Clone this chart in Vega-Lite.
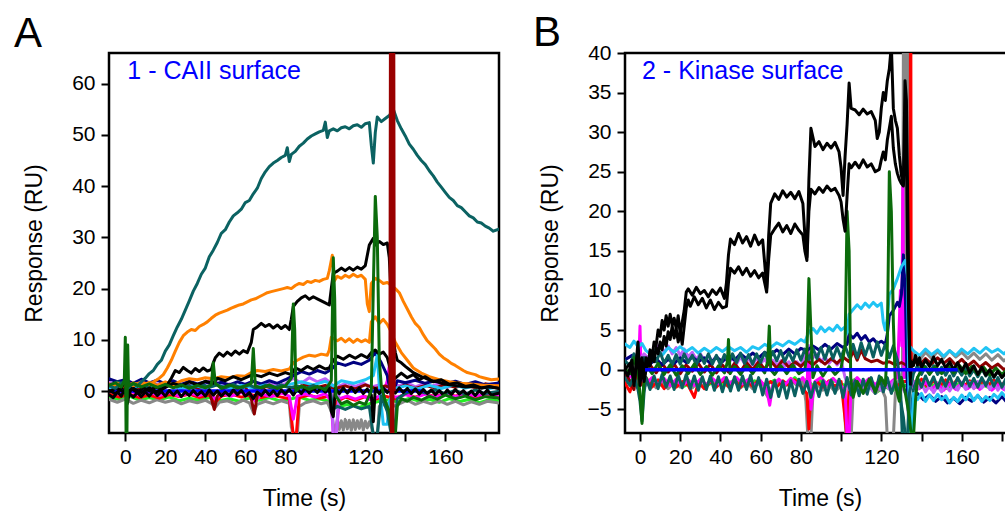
{
"$schema": "https://vega.github.io/schema/vega-lite/v6.json",
"background": "white",
"padding": {"left": 12, "top": 10, "right": 0, "bottom": 0},
"spacing": 126,
"bounds": "flush",
"config": {
 "font": "Liberation Sans",
 "view": {"stroke": "black", "strokeWidth": 2.5},
 "axis": {"domain": false, "grid": false, "tickSize": 8, "tickWidth": 2, "tickColor": "black", "labelFont": "Liberation Sans", "labelFontSize": 21, "labelColor": "black", "titleFont": "Liberation Sans", "titleFontSize": 23, "titleFontWeight": "normal", "titleColor": "black"}
},
"resolve": {"scale": {"color": "independent"}},
"datasets": {
"A": [
{"id":"A01","t":-9,"v":-1.2},{"id":"A01","t":-3,"v":-1.6},{"id":"A01","t":2,"v":-1.0},{"id":"A01","t":7,"v":-1.8},{"id":"A01","t":12,"v":-1.3},{"id":"A01","t":17,"v":-1.7},{"id":"A01","t":22,"v":-1.2},{"id":"A01","t":27,"v":-1.9},{"id":"A01","t":32,"v":-1.4},{"id":"A01","t":37,"v":-1.8},{"id":"A01","t":42,"v":-1.3},{"id":"A01","t":47,"v":-1.9},{"id":"A01","t":52,"v":-1.5},{"id":"A01","t":57,"v":-2.0},{"id":"A01","t":62,"v":-1.4},{"id":"A01","t":67,"v":-1.8},{"id":"A01","t":72,"v":-1.3},{"id":"A01","t":77,"v":-1.9},{"id":"A01","t":82,"v":-1.6},{"id":"A01","t":87,"v":-1.2},{"id":"A01","t":92,"v":-1.8},{"id":"A01","t":97,"v":-1.5},{"id":"A01","t":102,"v":-2.0},{"id":"A01","t":107,"v":-3.0},{"id":"A01","t":112,"v":-2.6},{"id":"A01","t":117,"v":-3.2},{"id":"A01","t":122,"v":-2.5},{"id":"A01","t":127,"v":-2.0},{"id":"A01","t":132,"v":-1.7},{"id":"A01","t":137,"v":-2.2},{"id":"A01","t":142,"v":-1.4},{"id":"A01","t":147,"v":-2.0},{"id":"A01","t":152,"v":-1.6},{"id":"A01","t":157,"v":-2.2},{"id":"A01","t":162,"v":-1.5},{"id":"A01","t":167,"v":-2.1},{"id":"A01","t":172,"v":-1.6},{"id":"A01","t":177,"v":-2.3},{"id":"A01","t":182,"v":-1.7},{"id":"A01","t":188,"v":-2.0},
{"id":"A02","t":-9,"v":-1.5},{"id":"A02","t":-4,"v":-2.2},{"id":"A02","t":0,"v":-1.6},{"id":"A02","t":4,"v":-2.4},{"id":"A02","t":8,"v":-1.8},{"id":"A02","t":12,"v":-2.3},{"id":"A02","t":16,"v":-1.7},{"id":"A02","t":20,"v":-2.2},{"id":"A02","t":24,"v":-1.8},{"id":"A02","t":28,"v":-2.5},{"id":"A02","t":32,"v":-1.9},{"id":"A02","t":36,"v":-2.3},{"id":"A02","t":40,"v":-1.8},{"id":"A02","t":43,"v":-2.4},{"id":"A02","t":45,"v":-3.2},{"id":"A02","t":47,"v":-2.2},{"id":"A02","t":51,"v":-1.9},{"id":"A02","t":55,"v":-2.5},{"id":"A02","t":59,"v":-1.8},{"id":"A02","t":62,"v":-2.3},{"id":"A02","t":64,"v":-4.2},{"id":"A02","t":66,"v":-2.6},{"id":"A02","t":70,"v":-2.0},{"id":"A02","t":74,"v":-2.5},{"id":"A02","t":78,"v":-1.9},{"id":"A02","t":82,"v":-2.4},{"id":"A02","t":83,"v":-7.0},{"id":"A02","t":84,"v":-8.6},{"id":"A02","t":86,"v":-8.6},{"id":"A02","t":87,"v":-3.0},{"id":"A02","t":90,"v":-2.3},{"id":"A02","t":94,"v":-1.9},{"id":"A02","t":98,"v":-2.5},{"id":"A02","t":101,"v":-2.2},{"id":"A02","t":103,"v":-4.0},{"id":"A02","t":104,"v":-6.5},{"id":"A02","t":105,"v":-7.8},{"id":"A02","t":106,"v":-5.6},{"id":"A02","t":107,"v":-7.5},{"id":"A02","t":108,"v":-5.8},{"id":"A02","t":109,"v":-7.6},{"id":"A02","t":110,"v":-5.5},{"id":"A02","t":111,"v":-7.4},{"id":"A02","t":112,"v":-5.7},{"id":"A02","t":113,"v":-7.7},{"id":"A02","t":114,"v":-5.6},{"id":"A02","t":115,"v":-7.5},{"id":"A02","t":116,"v":-5.8},{"id":"A02","t":117,"v":-7.3},{"id":"A02","t":118,"v":-5.6},{"id":"A02","t":119,"v":-7.6},{"id":"A02","t":120,"v":-5.9},{"id":"A02","t":121,"v":-7.2},{"id":"A02","t":122,"v":-6.0},{"id":"A02","t":123,"v":-7.0},{"id":"A02","t":124,"v":-8.6},{"id":"A02","t":126,"v":-8.6},{"id":"A02","t":127,"v":-3.0},{"id":"A02","t":131,"v":-2.4},{"id":"A02","t":134,"v":-3.0},{"id":"A02","t":137,"v":-2.5},{"id":"A02","t":141,"v":-1.8},{"id":"A02","t":145,"v":-2.6},{"id":"A02","t":149,"v":-2.0},{"id":"A02","t":153,"v":-2.5},{"id":"A02","t":157,"v":-1.9},{"id":"A02","t":161,"v":-2.6},{"id":"A02","t":165,"v":-2.0},{"id":"A02","t":169,"v":-2.7},{"id":"A02","t":173,"v":-2.1},{"id":"A02","t":177,"v":-2.6},{"id":"A02","t":181,"v":-2.0},{"id":"A02","t":188,"v":-2.4},
{"id":"A03","t":104,"v":-4.6},{"id":"A03","t":105,"v":-5.0},{"id":"A03","t":106,"v":-4.4},{"id":"A03","t":107,"v":-5.1},{"id":"A03","t":108,"v":-4.5},{"id":"A03","t":109,"v":-5.0},{"id":"A03","t":110,"v":-4.4},{"id":"A03","t":111,"v":-5.2},{"id":"A03","t":112,"v":-4.6},{"id":"A03","t":113,"v":-5.0},{"id":"A03","t":114,"v":-4.5},{"id":"A03","t":115,"v":-5.1},{"id":"A03","t":116,"v":-4.4},{"id":"A03","t":117,"v":-5.0},{"id":"A03","t":118,"v":-4.6},{"id":"A03","t":119,"v":-5.1},{"id":"A03","t":120,"v":-4.5},{"id":"A03","t":121,"v":-4.9},{"id":"A03","t":122,"v":-4.6},
{"id":"A04","t":-9,"v":-0.5},{"id":"A04","t":-3,"v":-1.2},{"id":"A04","t":2,"v":-0.6},{"id":"A04","t":7,"v":-1.3},{"id":"A04","t":12,"v":-0.8},{"id":"A04","t":17,"v":-1.4},{"id":"A04","t":22,"v":-0.7},{"id":"A04","t":27,"v":-1.1},{"id":"A04","t":32,"v":-0.6},{"id":"A04","t":37,"v":-1.3},{"id":"A04","t":42,"v":-0.8},{"id":"A04","t":45,"v":-2.2},{"id":"A04","t":48,"v":-1.0},{"id":"A04","t":53,"v":-0.6},{"id":"A04","t":58,"v":-1.2},{"id":"A04","t":63,"v":-0.7},{"id":"A04","t":68,"v":-1.3},{"id":"A04","t":73,"v":-0.8},{"id":"A04","t":78,"v":-1.2},{"id":"A04","t":82,"v":-1.5},{"id":"A04","t":84,"v":-8.6},{"id":"A04","t":85.5,"v":-8.6},{"id":"A04","t":87,"v":-1.3},{"id":"A04","t":92,"v":-0.8},{"id":"A04","t":97,"v":-1.4},{"id":"A04","t":102,"v":-1.0},{"id":"A04","t":104,"v":-3.5},{"id":"A04","t":106,"v":-2.0},{"id":"A04","t":110,"v":-1.2},{"id":"A04","t":115,"v":-1.8},{"id":"A04","t":120,"v":-1.1},{"id":"A04","t":125,"v":-1.6},{"id":"A04","t":130,"v":-1.0},{"id":"A04","t":135,"v":-1.5},{"id":"A04","t":140,"v":-0.6},{"id":"A04","t":145,"v":-1.2},{"id":"A04","t":150,"v":-0.5},{"id":"A04","t":155,"v":-1.1},{"id":"A04","t":160,"v":-0.4},{"id":"A04","t":165,"v":-1.0},{"id":"A04","t":170,"v":-0.5},{"id":"A04","t":175,"v":-1.2},{"id":"A04","t":180,"v":-0.6},{"id":"A04","t":188,"v":-1.0},
{"id":"A05","t":-9,"v":0.2},{"id":"A05","t":-3,"v":-0.6},{"id":"A05","t":2,"v":0.1},{"id":"A05","t":7,"v":-0.8},{"id":"A05","t":12,"v":-0.2},{"id":"A05","t":17,"v":-0.9},{"id":"A05","t":22,"v":-0.3},{"id":"A05","t":27,"v":-1.0},{"id":"A05","t":32,"v":-0.4},{"id":"A05","t":37,"v":-0.9},{"id":"A05","t":42,"v":-0.2},{"id":"A05","t":45,"v":-1.6},{"id":"A05","t":48,"v":-0.5},{"id":"A05","t":53,"v":-1.0},{"id":"A05","t":58,"v":-0.3},{"id":"A05","t":63,"v":-0.8},{"id":"A05","t":65,"v":-2.0},{"id":"A05","t":68,"v":-0.6},{"id":"A05","t":73,"v":-1.1},{"id":"A05","t":78,"v":-0.4},{"id":"A05","t":82,"v":-1.0},{"id":"A05","t":84,"v":-5.5},{"id":"A05","t":86,"v":-1.0},{"id":"A05","t":90,"v":-0.6},{"id":"A05","t":95,"v":-1.2},{"id":"A05","t":100,"v":-0.5},{"id":"A05","t":103,"v":-2.0},{"id":"A05","t":104,"v":-8.6},{"id":"A05","t":105.5,"v":-8.6},{"id":"A05","t":107,"v":-1.5},{"id":"A05","t":111,"v":-1.0},{"id":"A05","t":115,"v":-1.6},{"id":"A05","t":119,"v":-1.0},{"id":"A05","t":123,"v":-1.8},{"id":"A05","t":126,"v":-1.2},{"id":"A05","t":129,"v":-0.5},{"id":"A05","t":131,"v":2.0},{"id":"A05","t":132,"v":5.0},{"id":"A05","t":133,"v":-1.0},{"id":"A05","t":136,"v":-1.2},{"id":"A05","t":140,"v":-0.7},{"id":"A05","t":145,"v":-1.3},{"id":"A05","t":150,"v":-0.6},{"id":"A05","t":155,"v":-1.2},{"id":"A05","t":160,"v":-0.5},{"id":"A05","t":165,"v":-1.1},{"id":"A05","t":170,"v":-0.4},{"id":"A05","t":175,"v":-1.0},{"id":"A05","t":180,"v":-0.5},{"id":"A05","t":188,"v":-0.9},
{"id":"A06","t":-9,"v":1.8},{"id":"A06","t":-4,"v":1.0},{"id":"A06","t":0,"v":1.6},{"id":"A06","t":4,"v":0.9},{"id":"A06","t":8,"v":1.5},{"id":"A06","t":12,"v":0.8},{"id":"A06","t":16,"v":1.4},{"id":"A06","t":20,"v":0.7},{"id":"A06","t":24,"v":1.6},{"id":"A06","t":28,"v":0.9},{"id":"A06","t":32,"v":1.5},{"id":"A06","t":36,"v":0.8},{"id":"A06","t":40,"v":1.6},{"id":"A06","t":44,"v":2.2},{"id":"A06","t":48,"v":1.0},{"id":"A06","t":52,"v":1.4},{"id":"A06","t":56,"v":0.8},{"id":"A06","t":60,"v":1.3},{"id":"A06","t":64,"v":1.9},{"id":"A06","t":68,"v":1.0},{"id":"A06","t":72,"v":1.5},{"id":"A06","t":76,"v":0.9},{"id":"A06","t":80,"v":1.4},{"id":"A06","t":84,"v":2.5},{"id":"A06","t":88,"v":1.5},{"id":"A06","t":92,"v":2.6},{"id":"A06","t":96,"v":1.8},{"id":"A06","t":100,"v":2.4},{"id":"A06","t":103,"v":1.5},{"id":"A06","t":104,"v":-8.6},{"id":"A06","t":105.5,"v":-8.6},{"id":"A06","t":107,"v":1.0},{"id":"A06","t":111,"v":1.6},{"id":"A06","t":115,"v":0.9},{"id":"A06","t":119,"v":1.5},{"id":"A06","t":123,"v":0.8},{"id":"A06","t":127,"v":1.2},{"id":"A06","t":130,"v":0.5},{"id":"A06","t":133,"v":1.5},{"id":"A06","t":137,"v":1.0},{"id":"A06","t":141,"v":1.6},{"id":"A06","t":145,"v":0.8},{"id":"A06","t":149,"v":1.4},{"id":"A06","t":153,"v":0.9},{"id":"A06","t":157,"v":1.5},{"id":"A06","t":161,"v":0.7},{"id":"A06","t":165,"v":1.3},{"id":"A06","t":169,"v":0.8},{"id":"A06","t":173,"v":1.4},{"id":"A06","t":177,"v":0.7},{"id":"A06","t":181,"v":1.2},{"id":"A06","t":188,"v":0.8},
{"id":"A07","t":-9,"v":1.0},{"id":"A07","t":-3,"v":0.3},{"id":"A07","t":2,"v":1.1},{"id":"A07","t":7,"v":0.4},{"id":"A07","t":12,"v":1.2},{"id":"A07","t":17,"v":0.5},{"id":"A07","t":22,"v":1.3},{"id":"A07","t":27,"v":0.6},{"id":"A07","t":32,"v":1.1},{"id":"A07","t":37,"v":0.4},{"id":"A07","t":41,"v":0.9},{"id":"A07","t":43,"v":-1.5},{"id":"A07","t":44.5,"v":-3.6},{"id":"A07","t":46,"v":-1.0},{"id":"A07","t":50,"v":0.8},{"id":"A07","t":55,"v":0.3},{"id":"A07","t":60,"v":0.9},{"id":"A07","t":63,"v":-1.5},{"id":"A07","t":64.5,"v":-4.5},{"id":"A07","t":66,"v":-0.8},{"id":"A07","t":70,"v":0.9},{"id":"A07","t":75,"v":0.4},{"id":"A07","t":80,"v":1.0},{"id":"A07","t":85,"v":0.5},{"id":"A07","t":90,"v":1.2},{"id":"A07","t":95,"v":0.6},{"id":"A07","t":100,"v":1.1},{"id":"A07","t":105,"v":0.5},{"id":"A07","t":110,"v":1.0},{"id":"A07","t":115,"v":0.4},{"id":"A07","t":120,"v":1.2},{"id":"A07","t":125,"v":0.5},{"id":"A07","t":130,"v":1.0},{"id":"A07","t":135,"v":0.3},{"id":"A07","t":140,"v":1.2},{"id":"A07","t":145,"v":0.5},{"id":"A07","t":150,"v":1.1},{"id":"A07","t":155,"v":0.6},{"id":"A07","t":160,"v":1.3},{"id":"A07","t":165,"v":0.7},{"id":"A07","t":170,"v":1.2},{"id":"A07","t":175,"v":0.6},{"id":"A07","t":180,"v":1.4},{"id":"A07","t":188,"v":0.8},
{"id":"A08","t":-9,"v":2.5},{"id":"A08","t":-4,"v":1.8},{"id":"A08","t":0,"v":2.2},{"id":"A08","t":4,"v":1.5},{"id":"A08","t":8,"v":2.3},{"id":"A08","t":12,"v":1.6},{"id":"A08","t":16,"v":2.1},{"id":"A08","t":20,"v":1.4},{"id":"A08","t":24,"v":2.0},{"id":"A08","t":28,"v":1.3},{"id":"A08","t":32,"v":1.9},{"id":"A08","t":36,"v":1.4},{"id":"A08","t":40,"v":1.8},{"id":"A08","t":44,"v":1.2},{"id":"A08","t":48,"v":1.7},{"id":"A08","t":52,"v":1.2},{"id":"A08","t":56,"v":1.8},{"id":"A08","t":60,"v":1.3},{"id":"A08","t":64,"v":1.9},{"id":"A08","t":68,"v":1.4},{"id":"A08","t":72,"v":2.0},{"id":"A08","t":76,"v":1.5},{"id":"A08","t":80,"v":2.2},{"id":"A08","t":84,"v":3.0},{"id":"A08","t":88,"v":3.8},{"id":"A08","t":92,"v":3.3},{"id":"A08","t":96,"v":4.0},{"id":"A08","t":100,"v":3.5},{"id":"A08","t":103,"v":4.2},{"id":"A08","t":106,"v":5.5},{"id":"A08","t":110,"v":5.0},{"id":"A08","t":114,"v":5.6},{"id":"A08","t":118,"v":5.2},{"id":"A08","t":122,"v":6.0},{"id":"A08","t":125,"v":7.5},{"id":"A08","t":128,"v":5.5},{"id":"A08","t":131,"v":3.0},{"id":"A08","t":133,"v":-1.0},{"id":"A08","t":136,"v":2.0},{"id":"A08","t":140,"v":1.6},{"id":"A08","t":145,"v":2.1},{"id":"A08","t":150,"v":1.5},{"id":"A08","t":155,"v":2.0},{"id":"A08","t":160,"v":1.4},{"id":"A08","t":165,"v":1.9},{"id":"A08","t":170,"v":1.3},{"id":"A08","t":175,"v":1.8},{"id":"A08","t":180,"v":1.2},{"id":"A08","t":188,"v":1.6},
{"id":"A09","t":-9,"v":0.5},{"id":"A09","t":-2,"v":1.2},{"id":"A09","t":4,"v":0.6},{"id":"A09","t":10,"v":1.3},{"id":"A09","t":16,"v":0.7},{"id":"A09","t":22,"v":1.2},{"id":"A09","t":28,"v":0.5},{"id":"A09","t":34,"v":1.1},{"id":"A09","t":40,"v":0.6},{"id":"A09","t":46,"v":1.2},{"id":"A09","t":52,"v":0.5},{"id":"A09","t":58,"v":1.1},{"id":"A09","t":64,"v":0.6},{"id":"A09","t":70,"v":1.2},{"id":"A09","t":76,"v":0.7},{"id":"A09","t":82,"v":1.3},{"id":"A09","t":88,"v":1.8},{"id":"A09","t":94,"v":1.2},{"id":"A09","t":100,"v":1.9},{"id":"A09","t":104,"v":1.0},{"id":"A09","t":108,"v":2.0},{"id":"A09","t":114,"v":1.5},{"id":"A09","t":120,"v":2.2},{"id":"A09","t":124,"v":3.0},{"id":"A09","t":126,"v":7.0},{"id":"A09","t":127,"v":1.0},{"id":"A09","t":129,"v":-6.5},{"id":"A09","t":131,"v":-6.5},{"id":"A09","t":132,"v":-2.0},{"id":"A09","t":135,"v":0.5},{"id":"A09","t":140,"v":1.0},{"id":"A09","t":146,"v":0.4},{"id":"A09","t":152,"v":1.1},{"id":"A09","t":158,"v":0.5},{"id":"A09","t":164,"v":1.2},{"id":"A09","t":170,"v":0.6},{"id":"A09","t":176,"v":1.1},{"id":"A09","t":182,"v":0.5},{"id":"A09","t":188,"v":0.9},
{"id":"A10","t":-9,"v":0.8},{"id":"A10","t":-4,"v":1.8},{"id":"A10","t":0,"v":1.2},{"id":"A10","t":3,"v":0.4},{"id":"A10","t":6,"v":1.5},{"id":"A10","t":10,"v":0.6},{"id":"A10","t":14,"v":1.4},{"id":"A10","t":18,"v":0.7},{"id":"A10","t":22,"v":1.5},{"id":"A10","t":26,"v":0.8},{"id":"A10","t":30,"v":1.3},{"id":"A10","t":34,"v":0.6},{"id":"A10","t":38,"v":1.4},{"id":"A10","t":42,"v":0.7},{"id":"A10","t":46,"v":1.2},{"id":"A10","t":50,"v":0.6},{"id":"A10","t":54,"v":1.3},{"id":"A10","t":58,"v":0.5},{"id":"A10","t":62,"v":1.2},{"id":"A10","t":66,"v":0.4},{"id":"A10","t":70,"v":1.1},{"id":"A10","t":74,"v":0.5},{"id":"A10","t":78,"v":1.2},{"id":"A10","t":82,"v":0.6},{"id":"A10","t":86,"v":1.0},{"id":"A10","t":90,"v":0.4},{"id":"A10","t":94,"v":1.1},{"id":"A10","t":98,"v":0.3},{"id":"A10","t":102,"v":0.8},{"id":"A10","t":104,"v":-3.5},{"id":"A10","t":106,"v":-3.0},{"id":"A10","t":110,"v":-3.6},{"id":"A10","t":114,"v":-2.9},{"id":"A10","t":118,"v":-3.5},{"id":"A10","t":122,"v":-3.0},{"id":"A10","t":124,"v":-8.6},{"id":"A10","t":126,"v":-8.6},{"id":"A10","t":128,"v":-1.0},{"id":"A10","t":131,"v":-4.0},{"id":"A10","t":133,"v":-8.6},{"id":"A10","t":134.5,"v":-8.6},{"id":"A10","t":136,"v":-1.5},{"id":"A10","t":140,"v":-0.5},{"id":"A10","t":145,"v":0.3},{"id":"A10","t":150,"v":-0.4},{"id":"A10","t":155,"v":0.2},{"id":"A10","t":160,"v":-0.5},{"id":"A10","t":165,"v":0.1},{"id":"A10","t":170,"v":-0.6},{"id":"A10","t":175,"v":0.2},{"id":"A10","t":180,"v":-0.5},{"id":"A10","t":188,"v":0.0},
{"id":"A11","t":-9,"v":1.0},{"id":"A11","t":-4,"v":1.5},{"id":"A11","t":0,"v":0.8},{"id":"A11","t":4,"v":1.6},{"id":"A11","t":8,"v":1.0},{"id":"A11","t":12,"v":1.7},{"id":"A11","t":16,"v":1.1},{"id":"A11","t":20,"v":1.8},{"id":"A11","t":24,"v":1.2},{"id":"A11","t":28,"v":2.0},{"id":"A11","t":32,"v":2.4},{"id":"A11","t":36,"v":2.2},{"id":"A11","t":40,"v":2.6},{"id":"A11","t":44,"v":2.4},{"id":"A11","t":48,"v":2.8},{"id":"A11","t":52,"v":2.6},{"id":"A11","t":56,"v":3.0},{"id":"A11","t":60,"v":2.9},{"id":"A11","t":63,"v":3.6},{"id":"A11","t":66,"v":4.0},{"id":"A11","t":70,"v":3.8},{"id":"A11","t":74,"v":4.2},{"id":"A11","t":78,"v":3.9},{"id":"A11","t":82,"v":4.3},{"id":"A11","t":84,"v":5.5},{"id":"A11","t":86,"v":6.0},{"id":"A11","t":89,"v":6.6},{"id":"A11","t":92,"v":7.0},{"id":"A11","t":95,"v":6.8},{"id":"A11","t":98,"v":7.2},{"id":"A11","t":101,"v":7.0},{"id":"A11","t":102,"v":8.0},{"id":"A11","t":103,"v":10.5},{"id":"A11","t":106,"v":9.8},{"id":"A11","t":108,"v":10.3},{"id":"A11","t":110,"v":9.6},{"id":"A11","t":112,"v":10.2},{"id":"A11","t":114,"v":9.5},{"id":"A11","t":116,"v":10.1},{"id":"A11","t":118,"v":9.6},{"id":"A11","t":120,"v":10.0},{"id":"A11","t":122,"v":9.5},{"id":"A11","t":123,"v":13.5},{"id":"A11","t":125,"v":14.5},{"id":"A11","t":127,"v":13.2},{"id":"A11","t":129,"v":14.0},{"id":"A11","t":131,"v":13.0},{"id":"A11","t":133,"v":11.5},{"id":"A11","t":135,"v":9.5},{"id":"A11","t":138,"v":7.5},{"id":"A11","t":141,"v":6.0},{"id":"A11","t":144,"v":4.5},{"id":"A11","t":148,"v":3.5},{"id":"A11","t":152,"v":2.8},{"id":"A11","t":157,"v":2.2},{"id":"A11","t":162,"v":1.8},{"id":"A11","t":168,"v":1.5},{"id":"A11","t":174,"v":1.3},{"id":"A11","t":180,"v":1.1},{"id":"A11","t":188,"v":1.0},
{"id":"A12","t":-9,"v":1.5},{"id":"A12","t":-4,"v":0.8},{"id":"A12","t":0,"v":1.6},{"id":"A12","t":4,"v":1.0},{"id":"A12","t":8,"v":1.8},{"id":"A12","t":12,"v":1.2},{"id":"A12","t":15,"v":2.0},{"id":"A12","t":17,"v":2.5},{"id":"A12","t":19,"v":3.2},{"id":"A12","t":21,"v":4.5},{"id":"A12","t":23,"v":6.0},{"id":"A12","t":25,"v":7.8},{"id":"A12","t":27,"v":9.5},{"id":"A12","t":29,"v":10.8},{"id":"A12","t":31,"v":11.5},{"id":"A12","t":33,"v":12.0},{"id":"A12","t":35,"v":11.8},{"id":"A12","t":37,"v":12.6},{"id":"A12","t":39,"v":13.0},{"id":"A12","t":41,"v":13.5},{"id":"A12","t":43,"v":14.2},{"id":"A12","t":45,"v":14.8},{"id":"A12","t":47,"v":15.2},{"id":"A12","t":49,"v":15.5},{"id":"A12","t":51,"v":15.8},{"id":"A12","t":53,"v":16.2},{"id":"A12","t":55,"v":16.5},{"id":"A12","t":57,"v":16.8},{"id":"A12","t":59,"v":17.0},{"id":"A12","t":61,"v":17.4},{"id":"A12","t":63,"v":17.8},{"id":"A12","t":65,"v":18.0},{"id":"A12","t":67,"v":18.4},{"id":"A12","t":69,"v":18.8},{"id":"A12","t":71,"v":19.2},{"id":"A12","t":73,"v":19.4},{"id":"A12","t":75,"v":19.6},{"id":"A12","t":77,"v":19.8},{"id":"A12","t":79,"v":20.0},{"id":"A12","t":81,"v":20.2},{"id":"A12","t":83,"v":20.0},{"id":"A12","t":85,"v":20.6},{"id":"A12","t":87,"v":21.0},{"id":"A12","t":89,"v":20.8},{"id":"A12","t":91,"v":21.4},{"id":"A12","t":93,"v":21.2},{"id":"A12","t":95,"v":21.6},{"id":"A12","t":97,"v":21.4},{"id":"A12","t":99,"v":21.8},{"id":"A12","t":101,"v":22.0},{"id":"A12","t":102,"v":23.5},{"id":"A12","t":103.5,"v":26.5},{"id":"A12","t":104.5,"v":21.5},{"id":"A12","t":106,"v":22.4},{"id":"A12","t":108,"v":22.0},{"id":"A12","t":110,"v":22.6},{"id":"A12","t":112,"v":22.2},{"id":"A12","t":114,"v":22.8},{"id":"A12","t":116,"v":22.3},{"id":"A12","t":118,"v":22.6},{"id":"A12","t":120,"v":21.8},{"id":"A12","t":121,"v":17.0},{"id":"A12","t":122,"v":15.5},{"id":"A12","t":123,"v":21.0},{"id":"A12","t":125,"v":22.0},{"id":"A12","t":127,"v":21.6},{"id":"A12","t":129,"v":21.0},{"id":"A12","t":131,"v":21.2},{"id":"A12","t":133,"v":20.6},{"id":"A12","t":135,"v":20.0},{"id":"A12","t":137,"v":19.2},{"id":"A12","t":139,"v":17.5},{"id":"A12","t":141,"v":16.0},{"id":"A12","t":143,"v":14.5},{"id":"A12","t":145,"v":13.2},{"id":"A12","t":147,"v":12.4},{"id":"A12","t":149,"v":11.0},{"id":"A12","t":151,"v":9.8},{"id":"A12","t":153,"v":9.0},{"id":"A12","t":155,"v":8.2},{"id":"A12","t":157,"v":7.2},{"id":"A12","t":159,"v":6.5},{"id":"A12","t":161,"v":6.0},{"id":"A12","t":163,"v":5.4},{"id":"A12","t":165,"v":5.0},{"id":"A12","t":167,"v":4.5},{"id":"A12","t":169,"v":4.0},{"id":"A12","t":171,"v":3.6},{"id":"A12","t":173,"v":3.4},{"id":"A12","t":175,"v":3.2},{"id":"A12","t":177,"v":2.8},{"id":"A12","t":179,"v":2.6},{"id":"A12","t":181,"v":2.4},{"id":"A12","t":183,"v":2.2},{"id":"A12","t":188,"v":2.4},
{"id":"A13","t":-9,"v":0.0},{"id":"A13","t":150,"v":0.0},
{"id":"A14","t":-9,"v":-0.5},{"id":"A14","t":-6,"v":-1.3},{"id":"A14","t":-4,"v":-0.2},{"id":"A14","t":-2,"v":-1.0},{"id":"A14","t":0,"v":0.5},{"id":"A14","t":1,"v":-2.5},{"id":"A14","t":2,"v":-0.5},{"id":"A14","t":4,"v":-1.2},{"id":"A14","t":6,"v":-0.3},{"id":"A14","t":8,"v":-1.1},{"id":"A14","t":10,"v":-0.2},{"id":"A14","t":12,"v":-1.0},{"id":"A14","t":14,"v":0.0},{"id":"A14","t":16,"v":-0.9},{"id":"A14","t":18,"v":-0.1},{"id":"A14","t":20,"v":-1.0},{"id":"A14","t":22,"v":0.1},{"id":"A14","t":24,"v":-0.8},{"id":"A14","t":26,"v":0.0},{"id":"A14","t":28,"v":-1.1},{"id":"A14","t":30,"v":-0.2},{"id":"A14","t":32,"v":-0.9},{"id":"A14","t":34,"v":0.1},{"id":"A14","t":36,"v":-0.8},{"id":"A14","t":38,"v":-0.1},{"id":"A14","t":40,"v":-1.0},{"id":"A14","t":42,"v":0.2},{"id":"A14","t":44,"v":-0.8},{"id":"A14","t":46,"v":0.0},{"id":"A14","t":48,"v":-1.0},{"id":"A14","t":50,"v":-0.2},{"id":"A14","t":52,"v":-0.9},{"id":"A14","t":54,"v":0.2},{"id":"A14","t":56,"v":-0.7},{"id":"A14","t":58,"v":0.1},{"id":"A14","t":60,"v":-1.0},{"id":"A14","t":62,"v":-0.3},{"id":"A14","t":64,"v":-1.5},{"id":"A14","t":66,"v":-0.2},{"id":"A14","t":68,"v":-0.9},{"id":"A14","t":70,"v":0.1},{"id":"A14","t":72,"v":-0.8},{"id":"A14","t":74,"v":0.0},{"id":"A14","t":76,"v":-0.9},{"id":"A14","t":78,"v":0.2},{"id":"A14","t":80,"v":-0.6},{"id":"A14","t":82,"v":0.3},{"id":"A14","t":84,"v":-0.8},{"id":"A14","t":86,"v":0.4},{"id":"A14","t":88,"v":-0.5},{"id":"A14","t":90,"v":0.6},{"id":"A14","t":92,"v":-0.4},{"id":"A14","t":94,"v":0.5},{"id":"A14","t":96,"v":-0.3},{"id":"A14","t":98,"v":0.7},{"id":"A14","t":100,"v":-0.2},{"id":"A14","t":102,"v":0.5},{"id":"A14","t":103,"v":-4.0},{"id":"A14","t":104,"v":-5.0},{"id":"A14","t":105,"v":0.5},{"id":"A14","t":107,"v":-0.5},{"id":"A14","t":109,"v":0.6},{"id":"A14","t":111,"v":-0.4},{"id":"A14","t":113,"v":0.7},{"id":"A14","t":115,"v":-0.3},{"id":"A14","t":117,"v":0.6},{"id":"A14","t":119,"v":-0.5},{"id":"A14","t":121,"v":0.4},{"id":"A14","t":123,"v":-0.8},{"id":"A14","t":124,"v":-6.0},{"id":"A14","t":125,"v":0.5},{"id":"A14","t":127,"v":-0.5},{"id":"A14","t":129,"v":0.6},{"id":"A14","t":131,"v":-0.3},{"id":"A14","t":133,"v":0.5},{"id":"A14","t":135,"v":-0.4},{"id":"A14","t":137,"v":0.6},{"id":"A14","t":139,"v":-0.3},{"id":"A14","t":141,"v":0.5},{"id":"A14","t":143,"v":-0.5},{"id":"A14","t":145,"v":0.4},{"id":"A14","t":147,"v":-0.6},{"id":"A14","t":149,"v":0.3},{"id":"A14","t":151,"v":-0.5},{"id":"A14","t":153,"v":0.2},{"id":"A14","t":155,"v":-0.7},{"id":"A14","t":157,"v":0.1},{"id":"A14","t":159,"v":-0.8},{"id":"A14","t":161,"v":0.2},{"id":"A14","t":163,"v":-0.7},{"id":"A14","t":165,"v":0.3},{"id":"A14","t":167,"v":-0.6},{"id":"A14","t":169,"v":0.1},{"id":"A14","t":171,"v":-0.8},{"id":"A14","t":173,"v":0.0},{"id":"A14","t":175,"v":-0.9},{"id":"A14","t":177,"v":0.1},{"id":"A14","t":179,"v":-0.7},{"id":"A14","t":181,"v":0.2},{"id":"A14","t":183,"v":-0.8},{"id":"A14","t":188,"v":-0.3},
{"id":"A15","t":-9,"v":-0.2},{"id":"A15","t":-4,"v":0.6},{"id":"A15","t":0,"v":-0.4},{"id":"A15","t":4,"v":0.5},{"id":"A15","t":8,"v":-0.3},{"id":"A15","t":12,"v":0.6},{"id":"A15","t":16,"v":-0.2},{"id":"A15","t":20,"v":0.7},{"id":"A15","t":24,"v":1.5},{"id":"A15","t":28,"v":1.0},{"id":"A15","t":32,"v":1.8},{"id":"A15","t":36,"v":1.2},{"id":"A15","t":40,"v":1.9},{"id":"A15","t":44,"v":1.5},{"id":"A15","t":46,"v":2.5},{"id":"A15","t":50,"v":2.0},{"id":"A15","t":54,"v":2.8},{"id":"A15","t":58,"v":2.2},{"id":"A15","t":62,"v":2.9},{"id":"A15","t":64,"v":3.2},{"id":"A15","t":68,"v":2.8},{"id":"A15","t":72,"v":3.5},{"id":"A15","t":76,"v":3.0},{"id":"A15","t":80,"v":3.6},{"id":"A15","t":83,"v":3.2},{"id":"A15","t":85,"v":4.5},{"id":"A15","t":88,"v":4.0},{"id":"A15","t":91,"v":4.8},{"id":"A15","t":94,"v":4.2},{"id":"A15","t":97,"v":4.9},{"id":"A15","t":100,"v":4.3},{"id":"A15","t":102,"v":4.5},{"id":"A15","t":104,"v":6.0},{"id":"A15","t":106,"v":6.8},{"id":"A15","t":109,"v":6.2},{"id":"A15","t":112,"v":7.0},{"id":"A15","t":115,"v":6.4},{"id":"A15","t":118,"v":7.1},{"id":"A15","t":121,"v":6.5},{"id":"A15","t":123,"v":7.5},{"id":"A15","t":125,"v":8.0},{"id":"A15","t":127,"v":7.2},{"id":"A15","t":129,"v":7.6},{"id":"A15","t":131,"v":6.5},{"id":"A15","t":133,"v":3.5},{"id":"A15","t":135,"v":2.5},{"id":"A15","t":138,"v":3.5},{"id":"A15","t":141,"v":2.6},{"id":"A15","t":144,"v":3.2},{"id":"A15","t":147,"v":2.2},{"id":"A15","t":150,"v":2.8},{"id":"A15","t":154,"v":1.8},{"id":"A15","t":158,"v":2.2},{"id":"A15","t":162,"v":1.3},{"id":"A15","t":166,"v":1.6},{"id":"A15","t":170,"v":0.9},{"id":"A15","t":174,"v":1.2},{"id":"A15","t":178,"v":0.6},{"id":"A15","t":182,"v":0.9},{"id":"A15","t":188,"v":0.4},
{"id":"A16","t":-9,"v":0.3},{"id":"A16","t":-5,"v":-0.5},{"id":"A16","t":-2,"v":0.4},{"id":"A16","t":0,"v":2.5},{"id":"A16","t":1,"v":-1.5},{"id":"A16","t":3,"v":0.5},{"id":"A16","t":6,"v":-0.3},{"id":"A16","t":9,"v":0.6},{"id":"A16","t":12,"v":0.0},{"id":"A16","t":15,"v":0.8},{"id":"A16","t":18,"v":0.3},{"id":"A16","t":21,"v":1.2},{"id":"A16","t":23,"v":2.5},{"id":"A16","t":25,"v":4.0},{"id":"A16","t":27,"v":3.6},{"id":"A16","t":29,"v":4.6},{"id":"A16","t":31,"v":4.0},{"id":"A16","t":33,"v":3.5},{"id":"A16","t":35,"v":4.4},{"id":"A16","t":37,"v":3.8},{"id":"A16","t":39,"v":4.5},{"id":"A16","t":41,"v":3.9},{"id":"A16","t":43,"v":4.2},{"id":"A16","t":44,"v":5.5},{"id":"A16","t":45,"v":6.5},{"id":"A16","t":47,"v":7.4},{"id":"A16","t":49,"v":6.8},{"id":"A16","t":51,"v":7.6},{"id":"A16","t":53,"v":7.0},{"id":"A16","t":55,"v":7.8},{"id":"A16","t":57,"v":7.2},{"id":"A16","t":59,"v":7.9},{"id":"A16","t":61,"v":7.5},{"id":"A16","t":63,"v":9.5},{"id":"A16","t":64,"v":12.0},{"id":"A16","t":66,"v":12.5},{"id":"A16","t":68,"v":13.2},{"id":"A16","t":70,"v":12.6},{"id":"A16","t":72,"v":13.0},{"id":"A16","t":74,"v":12.3},{"id":"A16","t":76,"v":12.9},{"id":"A16","t":78,"v":12.2},{"id":"A16","t":80,"v":12.8},{"id":"A16","t":82,"v":12.0},{"id":"A16","t":83,"v":14.0},{"id":"A16","t":84,"v":16.5},{"id":"A16","t":86,"v":17.5},{"id":"A16","t":88,"v":18.2},{"id":"A16","t":90,"v":18.6},{"id":"A16","t":92,"v":17.9},{"id":"A16","t":94,"v":18.4},{"id":"A16","t":96,"v":18.0},{"id":"A16","t":98,"v":17.6},{"id":"A16","t":100,"v":17.2},{"id":"A16","t":102,"v":16.8},{"id":"A16","t":103,"v":20.0},{"id":"A16","t":104,"v":23.0},{"id":"A16","t":106,"v":23.4},{"id":"A16","t":108,"v":24.0},{"id":"A16","t":110,"v":23.5},{"id":"A16","t":112,"v":24.1},{"id":"A16","t":114,"v":23.6},{"id":"A16","t":116,"v":24.2},{"id":"A16","t":118,"v":23.8},{"id":"A16","t":120,"v":24.5},{"id":"A16","t":121,"v":26.5},{"id":"A16","t":122,"v":28.5},{"id":"A16","t":124,"v":29.8},{"id":"A16","t":125,"v":28.5},{"id":"A16","t":127,"v":29.2},{"id":"A16","t":129,"v":28.6},{"id":"A16","t":131,"v":28.9},{"id":"A16","t":132,"v":26.0},{"id":"A16","t":133,"v":18.0},{"id":"A16","t":134,"v":10.0},{"id":"A16","t":135,"v":7.5},{"id":"A16","t":136,"v":6.0},{"id":"A16","t":138,"v":5.5},{"id":"A16","t":140,"v":4.8},{"id":"A16","t":142,"v":4.2},{"id":"A16","t":144,"v":3.6},{"id":"A16","t":146,"v":3.2},{"id":"A16","t":148,"v":2.8},{"id":"A16","t":150,"v":2.5},{"id":"A16","t":153,"v":2.0},{"id":"A16","t":156,"v":1.8},{"id":"A16","t":159,"v":1.4},{"id":"A16","t":162,"v":1.2},{"id":"A16","t":166,"v":1.0},{"id":"A16","t":170,"v":0.8},{"id":"A16","t":174,"v":0.9},{"id":"A16","t":178,"v":0.6},{"id":"A16","t":182,"v":0.8},{"id":"A16","t":188,"v":0.5},
{"id":"A17","t":-9,"v":1.2},{"id":"A17","t":-5,"v":0.5},{"id":"A17","t":-2,"v":1.5},{"id":"A17","t":0,"v":2.0},{"id":"A17","t":2,"v":0.8},{"id":"A17","t":4,"v":1.5},{"id":"A17","t":6,"v":0.9},{"id":"A17","t":8,"v":1.8},{"id":"A17","t":10,"v":2.5},{"id":"A17","t":12,"v":3.4},{"id":"A17","t":14,"v":4.0},{"id":"A17","t":16,"v":5.2},{"id":"A17","t":18,"v":6.0},{"id":"A17","t":20,"v":7.8},{"id":"A17","t":22,"v":9.0},{"id":"A17","t":24,"v":10.8},{"id":"A17","t":26,"v":12.5},{"id":"A17","t":28,"v":14.0},{"id":"A17","t":30,"v":15.8},{"id":"A17","t":32,"v":17.6},{"id":"A17","t":34,"v":19.5},{"id":"A17","t":36,"v":21.0},{"id":"A17","t":38,"v":22.8},{"id":"A17","t":40,"v":24.0},{"id":"A17","t":42,"v":26.2},{"id":"A17","t":44,"v":27.5},{"id":"A17","t":46,"v":29.0},{"id":"A17","t":48,"v":30.8},{"id":"A17","t":50,"v":31.5},{"id":"A17","t":52,"v":33.0},{"id":"A17","t":54,"v":34.2},{"id":"A17","t":56,"v":34.8},{"id":"A17","t":58,"v":35.5},{"id":"A17","t":60,"v":36.8},{"id":"A17","t":62,"v":37.2},{"id":"A17","t":64,"v":38.5},{"id":"A17","t":66,"v":39.6},{"id":"A17","t":68,"v":41.5},{"id":"A17","t":70,"v":42.8},{"id":"A17","t":72,"v":43.8},{"id":"A17","t":74,"v":44.5},{"id":"A17","t":76,"v":45.0},{"id":"A17","t":78,"v":45.6},{"id":"A17","t":80,"v":46.0},{"id":"A17","t":81,"v":47.5},{"id":"A17","t":82,"v":44.8},{"id":"A17","t":83,"v":46.2},{"id":"A17","t":85,"v":46.8},{"id":"A17","t":87,"v":47.8},{"id":"A17","t":89,"v":48.4},{"id":"A17","t":91,"v":49.2},{"id":"A17","t":93,"v":49.8},{"id":"A17","t":95,"v":50.2},{"id":"A17","t":97,"v":50.6},{"id":"A17","t":99,"v":50.9},{"id":"A17","t":100,"v":52.5},{"id":"A17","t":101,"v":49.5},{"id":"A17","t":102,"v":50.8},{"id":"A17","t":104,"v":51.2},{"id":"A17","t":106,"v":50.8},{"id":"A17","t":108,"v":51.4},{"id":"A17","t":110,"v":51.6},{"id":"A17","t":112,"v":51.2},{"id":"A17","t":114,"v":51.8},{"id":"A17","t":116,"v":52.0},{"id":"A17","t":118,"v":51.5},{"id":"A17","t":120,"v":52.2},{"id":"A17","t":122,"v":52.4},{"id":"A17","t":123,"v":48.0},{"id":"A17","t":124,"v":44.5},{"id":"A17","t":125,"v":50.5},{"id":"A17","t":126,"v":53.5},{"id":"A17","t":128,"v":52.6},{"id":"A17","t":130,"v":53.2},{"id":"A17","t":132,"v":53.8},{"id":"A17","t":134,"v":55.0},{"id":"A17","t":136,"v":52.8},{"id":"A17","t":138,"v":51.2},{"id":"A17","t":140,"v":49.8},{"id":"A17","t":142,"v":48.2},{"id":"A17","t":144,"v":47.2},{"id":"A17","t":146,"v":46.0},{"id":"A17","t":148,"v":45.0},{"id":"A17","t":150,"v":44.2},{"id":"A17","t":152,"v":43.0},{"id":"A17","t":154,"v":42.0},{"id":"A17","t":156,"v":40.8},{"id":"A17","t":158,"v":39.8},{"id":"A17","t":160,"v":38.8},{"id":"A17","t":162,"v":37.8},{"id":"A17","t":164,"v":37.2},{"id":"A17","t":166,"v":36.2},{"id":"A17","t":168,"v":35.8},{"id":"A17","t":170,"v":35.0},{"id":"A17","t":172,"v":34.2},{"id":"A17","t":174,"v":33.8},{"id":"A17","t":176,"v":33.0},{"id":"A17","t":178,"v":32.8},{"id":"A17","t":180,"v":32.2},{"id":"A17","t":182,"v":31.8},{"id":"A17","t":184,"v":31.2},{"id":"A17","t":188,"v":31.8},
{"id":"A18","t":-9,"v":1.0},{"id":"A18","t":-5,"v":1.6},{"id":"A18","t":-2,"v":0.8},{"id":"A18","t":-0.5,"v":2.0},{"id":"A18","t":0,"v":10.5},{"id":"A18","t":0.4,"v":-9.0},{"id":"A18","t":0.8,"v":-9.0},{"id":"A18","t":1.2,"v":9.0},{"id":"A18","t":1.6,"v":1.0},{"id":"A18","t":4,"v":1.5},{"id":"A18","t":8,"v":0.8},{"id":"A18","t":12,"v":1.4},{"id":"A18","t":16,"v":0.7},{"id":"A18","t":20,"v":1.3},{"id":"A18","t":24,"v":0.6},{"id":"A18","t":28,"v":1.2},{"id":"A18","t":32,"v":0.5},{"id":"A18","t":36,"v":1.1},{"id":"A18","t":40,"v":0.6},{"id":"A18","t":43,"v":1.2},{"id":"A18","t":44,"v":5.5},{"id":"A18","t":45,"v":1.5},{"id":"A18","t":48,"v":0.5},{"id":"A18","t":52,"v":1.2},{"id":"A18","t":56,"v":0.6},{"id":"A18","t":60,"v":1.0},{"id":"A18","t":63,"v":1.5},{"id":"A18","t":64,"v":8.3},{"id":"A18","t":65,"v":1.0},{"id":"A18","t":68,"v":0.6},{"id":"A18","t":72,"v":1.2},{"id":"A18","t":76,"v":0.5},{"id":"A18","t":80,"v":1.0},{"id":"A18","t":83,"v":2.5},{"id":"A18","t":84,"v":17.0},{"id":"A18","t":84.7,"v":12.0},{"id":"A18","t":85.3,"v":0.0},{"id":"A18","t":88,"v":1.0},{"id":"A18","t":92,"v":0.3},{"id":"A18","t":96,"v":0.9},{"id":"A18","t":100,"v":0.2},{"id":"A18","t":103,"v":2.0},{"id":"A18","t":104,"v":26.0},{"id":"A18","t":104.7,"v":18.0},{"id":"A18","t":105.3,"v":-1.0},{"id":"A18","t":108,"v":-2.5},{"id":"A18","t":111,"v":-2.0},{"id":"A18","t":114,"v":-2.8},{"id":"A18","t":117,"v":-2.2},{"id":"A18","t":120,"v":-2.6},{"id":"A18","t":123,"v":0.0},{"id":"A18","t":124,"v":20.0},{"id":"A18","t":125,"v":38.0},{"id":"A18","t":126,"v":30.0},{"id":"A18","t":127,"v":6.0},{"id":"A18","t":128,"v":1.0},{"id":"A18","t":130,"v":-2.0},{"id":"A18","t":132,"v":-4.0},{"id":"A18","t":133.5,"v":-8.6},{"id":"A18","t":135,"v":-8.6},{"id":"A18","t":136,"v":-3.0},{"id":"A18","t":138,"v":-1.5},{"id":"A18","t":141,"v":-2.0},{"id":"A18","t":144,"v":-1.2},{"id":"A18","t":148,"v":-1.8},{"id":"A18","t":152,"v":-1.0},{"id":"A18","t":156,"v":-1.6},{"id":"A18","t":160,"v":-0.8},{"id":"A18","t":165,"v":-1.5},{"id":"A18","t":170,"v":-1.0},{"id":"A18","t":175,"v":-1.7},{"id":"A18","t":180,"v":-1.1},{"id":"A18","t":188,"v":-1.4},
{"id":"A19","t":132.3,"v":0.0},{"id":"A19","t":132.6,"v":80},{"id":"A19","t":133.0,"v":-9},{"id":"A19","t":133.4,"v":80},{"id":"A19","t":133.8,"v":-9},{"id":"A19","t":134.2,"v":80},{"id":"A19","t":134.5,"v":0.0}
],
"B": [
{"id":"B01","t":-9,"v":-1.8},{"id":"B01","t":-3,"v":-1.2},{"id":"B01","t":2,"v":-2.0},{"id":"B01","t":7,"v":-1.4},{"id":"B01","t":12,"v":-2.2},{"id":"B01","t":17,"v":-1.5},{"id":"B01","t":22,"v":-2.1},{"id":"B01","t":27,"v":-1.4},{"id":"B01","t":32,"v":-2.2},{"id":"B01","t":37,"v":-1.5},{"id":"B01","t":42,"v":-2.0},{"id":"B01","t":47,"v":-1.3},{"id":"B01","t":52,"v":-2.1},{"id":"B01","t":57,"v":-1.4},{"id":"B01","t":62,"v":-2.0},{"id":"B01","t":67,"v":-1.3},{"id":"B01","t":72,"v":-2.1},{"id":"B01","t":77,"v":-1.0},{"id":"B01","t":80,"v":-1.8},{"id":"B01","t":83,"v":-1.2},{"id":"B01","t":86,"v":-2.0},{"id":"B01","t":89,"v":-1.3},{"id":"B01","t":92,"v":-1.9},{"id":"B01","t":97,"v":-1.4},{"id":"B01","t":102,"v":-2.0},{"id":"B01","t":107,"v":-1.2},{"id":"B01","t":110,"v":-2.2},{"id":"B01","t":114,"v":-1.6},{"id":"B01","t":118,"v":-2.8},{"id":"B01","t":122,"v":-2.2},{"id":"B01","t":126,"v":-2.6},{"id":"B01","t":130,"v":-1.8},{"id":"B01","t":134,"v":-2.2},{"id":"B01","t":138,"v":-1.6},{"id":"B01","t":143,"v":-2.3},{"id":"B01","t":148,"v":-1.7},{"id":"B01","t":153,"v":-2.4},{"id":"B01","t":158,"v":-1.8},{"id":"B01","t":163,"v":-2.3},{"id":"B01","t":168,"v":-1.7},{"id":"B01","t":173,"v":-2.2},{"id":"B01","t":178,"v":-1.6},{"id":"B01","t":183,"v":-2.1},{"id":"B01","t":188,"v":-1.8},
{"id":"B02","t":-9,"v":-1.0},{"id":"B02","t":-4,"v":-2.0},{"id":"B02","t":-1,"v":-1.2},{"id":"B02","t":2,"v":-2.2},{"id":"B02","t":5,"v":-1.4},{"id":"B02","t":8,"v":-2.3},{"id":"B02","t":11,"v":-1.5},{"id":"B02","t":14,"v":-2.4},{"id":"B02","t":17,"v":-1.6},{"id":"B02","t":20,"v":-2.2},{"id":"B02","t":23,"v":-1.4},{"id":"B02","t":26,"v":-2.3},{"id":"B02","t":29,"v":-1.5},{"id":"B02","t":32,"v":-2.2},{"id":"B02","t":35,"v":-1.4},{"id":"B02","t":38,"v":-2.1},{"id":"B02","t":41,"v":-1.3},{"id":"B02","t":44,"v":-2.2},{"id":"B02","t":47,"v":-1.5},{"id":"B02","t":50,"v":-2.3},{"id":"B02","t":53,"v":-1.6},{"id":"B02","t":56,"v":-2.4},{"id":"B02","t":59,"v":-1.7},{"id":"B02","t":62,"v":-2.8},{"id":"B02","t":64,"v":-3.6},{"id":"B02","t":66,"v":-2.0},{"id":"B02","t":69,"v":-1.4},{"id":"B02","t":72,"v":-2.1},{"id":"B02","t":75,"v":-1.3},{"id":"B02","t":78,"v":-2.0},{"id":"B02","t":81,"v":-1.5},{"id":"B02","t":82.5,"v":-4.0},{"id":"B02","t":83.5,"v":-8.6},{"id":"B02","t":85,"v":-8.6},{"id":"B02","t":86,"v":-3.0},{"id":"B02","t":88,"v":-1.8},{"id":"B02","t":91,"v":-2.6},{"id":"B02","t":94,"v":-1.9},{"id":"B02","t":97,"v":-2.8},{"id":"B02","t":100,"v":-2.0},{"id":"B02","t":101.5,"v":-4.0},{"id":"B02","t":102.5,"v":-8.6},{"id":"B02","t":105,"v":-8.6},{"id":"B02","t":106,"v":-3.0},{"id":"B02","t":108,"v":-2.2},{"id":"B02","t":111,"v":-2.9},{"id":"B02","t":114,"v":-2.1},{"id":"B02","t":117,"v":-3.0},{"id":"B02","t":120,"v":-2.3},{"id":"B02","t":122,"v":-3.5},{"id":"B02","t":123,"v":-8.6},{"id":"B02","t":126,"v":-8.6},{"id":"B02","t":127,"v":-3.0},{"id":"B02","t":129,"v":-1.0},{"id":"B02","t":130.5,"v":-1.0},{"id":"B02","t":131,"v":42},{"id":"B02","t":131.5,"v":-1},{"id":"B02","t":132,"v":42},{"id":"B02","t":132.5,"v":-1},{"id":"B02","t":133,"v":42},{"id":"B02","t":133.5,"v":-1},{"id":"B02","t":134,"v":42},{"id":"B02","t":134.3,"v":-1.0},{"id":"B02","t":136,"v":2.0},{"id":"B02","t":139,"v":1.2},{"id":"B02","t":142,"v":2.2},{"id":"B02","t":145,"v":1.4},{"id":"B02","t":148,"v":2.3},{"id":"B02","t":151,"v":1.5},{"id":"B02","t":154,"v":2.4},{"id":"B02","t":157,"v":1.6},{"id":"B02","t":160,"v":2.2},{"id":"B02","t":163,"v":1.4},{"id":"B02","t":166,"v":2.1},{"id":"B02","t":169,"v":1.3},{"id":"B02","t":172,"v":2.0},{"id":"B02","t":175,"v":1.2},{"id":"B02","t":178,"v":1.9},{"id":"B02","t":181,"v":1.1},{"id":"B02","t":184,"v":1.8},{"id":"B02","t":188,"v":1.3},
{"id":"B03","t":-9,"v":-1.0},{"id":"B03","t":-5,"v":-2.8},{"id":"B03","t":-3,"v":-1.2},{"id":"B03","t":0,"v":-2.0},{"id":"B03","t":3,"v":-1.0},{"id":"B03","t":6,"v":-2.2},{"id":"B03","t":9,"v":-1.3},{"id":"B03","t":12,"v":-2.4},{"id":"B03","t":15,"v":-1.4},{"id":"B03","t":18,"v":-2.2},{"id":"B03","t":21,"v":-1.5},{"id":"B03","t":24,"v":-2.0},{"id":"B03","t":27,"v":-3.5},{"id":"B03","t":29,"v":-1.6},{"id":"B03","t":32,"v":-2.4},{"id":"B03","t":35,"v":-1.5},{"id":"B03","t":38,"v":-2.2},{"id":"B03","t":41,"v":-1.4},{"id":"B03","t":44,"v":-2.1},{"id":"B03","t":47,"v":-1.3},{"id":"B03","t":50,"v":-2.2},{"id":"B03","t":53,"v":-1.4},{"id":"B03","t":56,"v":-2.1},{"id":"B03","t":59,"v":-1.3},{"id":"B03","t":62,"v":-2.0},{"id":"B03","t":65,"v":-1.5},{"id":"B03","t":68,"v":-2.2},{"id":"B03","t":71,"v":-1.4},{"id":"B03","t":74,"v":-2.0},{"id":"B03","t":77,"v":-1.3},{"id":"B03","t":80,"v":-2.1},{"id":"B03","t":83,"v":-3.0},{"id":"B03","t":84,"v":-7.5},{"id":"B03","t":85,"v":-2.5},{"id":"B03","t":88,"v":-1.5},{"id":"B03","t":91,"v":-2.2},{"id":"B03","t":94,"v":-1.4},{"id":"B03","t":97,"v":-2.1},{"id":"B03","t":100,"v":-1.5},{"id":"B03","t":103,"v":-8.6},{"id":"B03","t":104,"v":-2.0},{"id":"B03","t":107,"v":-1.5},{"id":"B03","t":110,"v":-2.2},{"id":"B03","t":113,"v":-1.6},{"id":"B03","t":116,"v":-2.3},{"id":"B03","t":119,"v":-1.5},{"id":"B03","t":122,"v":-2.2},{"id":"B03","t":125,"v":-1.6},{"id":"B03","t":128,"v":-2.0},{"id":"B03","t":131,"v":-1.5},{"id":"B03","t":134.3,"v":-1.5},{"id":"B03","t":134.5,"v":42},{"id":"B03","t":134.7,"v":42},{"id":"B03","t":134.9,"v":-1.0},{"id":"B03","t":137,"v":-2.0},{"id":"B03","t":140,"v":-1.2},{"id":"B03","t":143,"v":-2.2},{"id":"B03","t":146,"v":-1.4},{"id":"B03","t":149,"v":-2.1},{"id":"B03","t":152,"v":-1.3},{"id":"B03","t":155,"v":-2.0},{"id":"B03","t":158,"v":-1.2},{"id":"B03","t":161,"v":-2.1},{"id":"B03","t":164,"v":-1.4},{"id":"B03","t":167,"v":-2.2},{"id":"B03","t":170,"v":-1.5},{"id":"B03","t":173,"v":-2.0},{"id":"B03","t":176,"v":-1.3},{"id":"B03","t":179,"v":-2.1},{"id":"B03","t":182,"v":-1.4},{"id":"B03","t":188,"v":-1.9},
{"id":"B04","t":-9,"v":-1.5},{"id":"B04","t":-4,"v":-0.8},{"id":"B04","t":-2,"v":-1.8},{"id":"B04","t":-0.5,"v":2.0},{"id":"B04","t":0,"v":5.5},{"id":"B04","t":0.6,"v":-1.0},{"id":"B04","t":3,"v":-1.8},{"id":"B04","t":6,"v":-1.0},{"id":"B04","t":9,"v":-1.9},{"id":"B04","t":12,"v":-1.1},{"id":"B04","t":15,"v":-2.0},{"id":"B04","t":18,"v":-1.2},{"id":"B04","t":21,"v":-2.1},{"id":"B04","t":24,"v":-1.3},{"id":"B04","t":27,"v":-2.0},{"id":"B04","t":30,"v":-1.2},{"id":"B04","t":33,"v":-1.9},{"id":"B04","t":36,"v":-1.1},{"id":"B04","t":39,"v":-1.8},{"id":"B04","t":42,"v":-1.0},{"id":"B04","t":45,"v":-1.7},{"id":"B04","t":48,"v":-1.0},{"id":"B04","t":51,"v":-1.8},{"id":"B04","t":54,"v":-1.2},{"id":"B04","t":57,"v":-2.0},{"id":"B04","t":60,"v":-1.4},{"id":"B04","t":63,"v":-2.5},{"id":"B04","t":64.5,"v":-4.5},{"id":"B04","t":66,"v":-2.0},{"id":"B04","t":69,"v":-1.2},{"id":"B04","t":72,"v":-1.9},{"id":"B04","t":75,"v":-1.1},{"id":"B04","t":78,"v":-1.8},{"id":"B04","t":81,"v":-1.0},{"id":"B04","t":83,"v":-2.0},{"id":"B04","t":84,"v":3.0},{"id":"B04","t":85,"v":-5.0},{"id":"B04","t":87,"v":-1.5},{"id":"B04","t":90,"v":-1.0},{"id":"B04","t":93,"v":-1.8},{"id":"B04","t":96,"v":-1.1},{"id":"B04","t":99,"v":-1.9},{"id":"B04","t":102,"v":-2.5},{"id":"B04","t":103,"v":-8.6},{"id":"B04","t":104,"v":-8.6},{"id":"B04","t":105,"v":-2.0},{"id":"B04","t":108,"v":-1.0},{"id":"B04","t":111,"v":-1.8},{"id":"B04","t":114,"v":-1.1},{"id":"B04","t":117,"v":-1.9},{"id":"B04","t":120,"v":-1.2},{"id":"B04","t":123,"v":-2.0},{"id":"B04","t":126,"v":-1.3},{"id":"B04","t":128,"v":-1.0},{"id":"B04","t":129.5,"v":10.0},{"id":"B04","t":130.2,"v":3.0},{"id":"B04","t":130.7,"v":24.0},{"id":"B04","t":131.3,"v":-1.0},{"id":"B04","t":132.5,"v":12.0},{"id":"B04","t":133.5,"v":-3.0},{"id":"B04","t":136,"v":-1.5},{"id":"B04","t":139,"v":-2.4},{"id":"B04","t":142,"v":-1.6},{"id":"B04","t":145,"v":-2.5},{"id":"B04","t":148,"v":-1.7},{"id":"B04","t":151,"v":-2.6},{"id":"B04","t":154,"v":-1.8},{"id":"B04","t":157,"v":-2.5},{"id":"B04","t":160,"v":-1.6},{"id":"B04","t":163,"v":-2.4},{"id":"B04","t":166,"v":-1.7},{"id":"B04","t":169,"v":-2.5},{"id":"B04","t":172,"v":-1.8},{"id":"B04","t":175,"v":-2.6},{"id":"B04","t":178,"v":-1.9},{"id":"B04","t":181,"v":-2.5},{"id":"B04","t":184,"v":-1.8},{"id":"B04","t":188,"v":-2.2},
{"id":"B05","t":-9,"v":1.0},{"id":"B05","t":-4,"v":1.8},{"id":"B05","t":-1,"v":1.0},{"id":"B05","t":2,"v":2.0},{"id":"B05","t":5,"v":1.2},{"id":"B05","t":8,"v":2.6},{"id":"B05","t":10,"v":3.2},{"id":"B05","t":12,"v":2.2},{"id":"B05","t":14,"v":3.0},{"id":"B05","t":16,"v":2.0},{"id":"B05","t":18,"v":2.8},{"id":"B05","t":20,"v":1.8},{"id":"B05","t":22,"v":2.6},{"id":"B05","t":24,"v":1.6},{"id":"B05","t":26,"v":2.2},{"id":"B05","t":28,"v":1.3},{"id":"B05","t":30,"v":2.0},{"id":"B05","t":32,"v":1.2},{"id":"B05","t":34,"v":1.8},{"id":"B05","t":36,"v":1.0},{"id":"B05","t":38,"v":1.7},{"id":"B05","t":40,"v":0.9},{"id":"B05","t":42,"v":1.6},{"id":"B05","t":44,"v":0.8},{"id":"B05","t":46,"v":1.5},{"id":"B05","t":48,"v":0.7},{"id":"B05","t":50,"v":1.6},{"id":"B05","t":52,"v":0.8},{"id":"B05","t":54,"v":1.4},{"id":"B05","t":56,"v":0.6},{"id":"B05","t":58,"v":1.5},{"id":"B05","t":60,"v":0.8},{"id":"B05","t":62,"v":1.3},{"id":"B05","t":64,"v":0.6},{"id":"B05","t":66,"v":1.2},{"id":"B05","t":68,"v":0.5},{"id":"B05","t":70,"v":1.1},{"id":"B05","t":72,"v":0.4},{"id":"B05","t":74,"v":1.0},{"id":"B05","t":76,"v":0.3},{"id":"B05","t":78,"v":1.0},{"id":"B05","t":80,"v":0.4},{"id":"B05","t":82,"v":2.0},{"id":"B05","t":84,"v":3.0},{"id":"B05","t":86,"v":1.5},{"id":"B05","t":88,"v":2.0},{"id":"B05","t":90,"v":1.0},{"id":"B05","t":92,"v":1.6},{"id":"B05","t":94,"v":0.8},{"id":"B05","t":96,"v":1.4},{"id":"B05","t":98,"v":0.6},{"id":"B05","t":100,"v":1.2},{"id":"B05","t":102,"v":-1.0},{"id":"B05","t":104,"v":-2.5},{"id":"B05","t":106,"v":-1.8},{"id":"B05","t":108,"v":-2.6},{"id":"B05","t":110,"v":-1.9},{"id":"B05","t":112,"v":-2.8},{"id":"B05","t":114,"v":-2.0},{"id":"B05","t":116,"v":-2.7},{"id":"B05","t":118,"v":-1.9},{"id":"B05","t":120,"v":-2.6},{"id":"B05","t":122,"v":-1.8},{"id":"B05","t":124,"v":-2.5},{"id":"B05","t":126,"v":-1.5},{"id":"B05","t":128,"v":-2.8},{"id":"B05","t":130,"v":-2.0},{"id":"B05","t":132,"v":-3.0},{"id":"B05","t":134,"v":-2.0},{"id":"B05","t":136,"v":-1.5},{"id":"B05","t":138,"v":-2.5},{"id":"B05","t":140,"v":-1.8},{"id":"B05","t":142,"v":-2.8},{"id":"B05","t":144,"v":-2.0},{"id":"B05","t":146,"v":-2.9},{"id":"B05","t":148,"v":-2.1},{"id":"B05","t":150,"v":-2.8},{"id":"B05","t":152,"v":-1.9},{"id":"B05","t":154,"v":-2.7},{"id":"B05","t":156,"v":-1.8},{"id":"B05","t":158,"v":-2.6},{"id":"B05","t":160,"v":-1.7},{"id":"B05","t":162,"v":-2.5},{"id":"B05","t":164,"v":-1.6},{"id":"B05","t":166,"v":-2.4},{"id":"B05","t":168,"v":-1.5},{"id":"B05","t":170,"v":-2.3},{"id":"B05","t":172,"v":-1.6},{"id":"B05","t":174,"v":-2.5},{"id":"B05","t":176,"v":-1.7},{"id":"B05","t":178,"v":-2.6},{"id":"B05","t":180,"v":-1.8},{"id":"B05","t":182,"v":-2.7},{"id":"B05","t":184,"v":-1.9},{"id":"B05","t":188,"v":-2.5},
{"id":"B06","t":-9,"v":0.5},{"id":"B06","t":-3,"v":-2.5},{"id":"B06","t":-1,"v":0.8},{"id":"B06","t":2,"v":-0.5},{"id":"B06","t":5,"v":0.6},{"id":"B06","t":8,"v":-0.4},{"id":"B06","t":11,"v":0.8},{"id":"B06","t":14,"v":-0.3},{"id":"B06","t":17,"v":0.7},{"id":"B06","t":20,"v":-0.5},{"id":"B06","t":23,"v":0.6},{"id":"B06","t":26,"v":-0.2},{"id":"B06","t":29,"v":0.8},{"id":"B06","t":32,"v":-0.3},{"id":"B06","t":35,"v":0.7},{"id":"B06","t":38,"v":-0.4},{"id":"B06","t":41,"v":0.6},{"id":"B06","t":44,"v":-0.3},{"id":"B06","t":47,"v":0.8},{"id":"B06","t":50,"v":-0.2},{"id":"B06","t":53,"v":0.9},{"id":"B06","t":56,"v":0.0},{"id":"B06","t":59,"v":1.0},{"id":"B06","t":62,"v":0.1},{"id":"B06","t":65,"v":1.1},{"id":"B06","t":68,"v":0.2},{"id":"B06","t":71,"v":1.2},{"id":"B06","t":74,"v":0.3},{"id":"B06","t":77,"v":1.0},{"id":"B06","t":80,"v":0.4},{"id":"B06","t":83,"v":1.2},{"id":"B06","t":86,"v":0.6},{"id":"B06","t":89,"v":1.3},{"id":"B06","t":92,"v":0.7},{"id":"B06","t":95,"v":1.4},{"id":"B06","t":98,"v":0.8},{"id":"B06","t":101,"v":1.6},{"id":"B06","t":104,"v":1.0},{"id":"B06","t":106,"v":2.4},{"id":"B06","t":108,"v":1.2},{"id":"B06","t":110,"v":2.5},{"id":"B06","t":112,"v":1.4},{"id":"B06","t":115,"v":1.0},{"id":"B06","t":118,"v":1.2},{"id":"B06","t":121,"v":0.8},{"id":"B06","t":124,"v":1.0},{"id":"B06","t":127,"v":0.6},{"id":"B06","t":130,"v":0.9},{"id":"B06","t":133,"v":0.5},{"id":"B06","t":136,"v":1.2},{"id":"B06","t":139,"v":0.6},{"id":"B06","t":142,"v":1.4},{"id":"B06","t":145,"v":0.7},{"id":"B06","t":148,"v":1.5},{"id":"B06","t":151,"v":0.8},{"id":"B06","t":154,"v":1.4},{"id":"B06","t":157,"v":0.6},{"id":"B06","t":160,"v":1.3},{"id":"B06","t":163,"v":0.5},{"id":"B06","t":166,"v":1.1},{"id":"B06","t":169,"v":0.3},{"id":"B06","t":172,"v":0.9},{"id":"B06","t":175,"v":0.2},{"id":"B06","t":178,"v":0.7},{"id":"B06","t":181,"v":0.0},{"id":"B06","t":184,"v":0.5},{"id":"B06","t":188,"v":0.1},
{"id":"B07","t":-9,"v":-0.5},{"id":"B07","t":-5,"v":-2.0},{"id":"B07","t":-3,"v":-0.8},{"id":"B07","t":-1,"v":-2.5},{"id":"B07","t":0,"v":-4.0},{"id":"B07","t":1,"v":-6.5},{"id":"B07","t":2,"v":-3.0},{"id":"B07","t":3,"v":-1.0},{"id":"B07","t":5,"v":-2.5},{"id":"B07","t":7,"v":-0.8},{"id":"B07","t":9,"v":-2.4},{"id":"B07","t":11,"v":-0.6},{"id":"B07","t":13,"v":-2.2},{"id":"B07","t":15,"v":-0.8},{"id":"B07","t":17,"v":-2.5},{"id":"B07","t":19,"v":-0.7},{"id":"B07","t":21,"v":-2.3},{"id":"B07","t":23,"v":-0.6},{"id":"B07","t":25,"v":-2.4},{"id":"B07","t":27,"v":-0.8},{"id":"B07","t":29,"v":-2.6},{"id":"B07","t":31,"v":-0.9},{"id":"B07","t":33,"v":-2.5},{"id":"B07","t":35,"v":-0.8},{"id":"B07","t":37,"v":-2.6},{"id":"B07","t":39,"v":-0.9},{"id":"B07","t":41,"v":-2.8},{"id":"B07","t":43,"v":-1.0},{"id":"B07","t":45,"v":-2.7},{"id":"B07","t":47,"v":-0.9},{"id":"B07","t":49,"v":-2.6},{"id":"B07","t":51,"v":-0.8},{"id":"B07","t":53,"v":-2.5},{"id":"B07","t":55,"v":-0.7},{"id":"B07","t":57,"v":-2.8},{"id":"B07","t":59,"v":-1.0},{"id":"B07","t":61,"v":-3.2},{"id":"B07","t":63,"v":-1.2},{"id":"B07","t":65,"v":-3.5},{"id":"B07","t":67,"v":-1.4},{"id":"B07","t":69,"v":-3.4},{"id":"B07","t":71,"v":-1.5},{"id":"B07","t":73,"v":-3.6},{"id":"B07","t":75,"v":-1.4},{"id":"B07","t":77,"v":-3.3},{"id":"B07","t":79,"v":-1.2},{"id":"B07","t":81,"v":-3.0},{"id":"B07","t":83,"v":-1.5},{"id":"B07","t":85,"v":-3.5},{"id":"B07","t":87,"v":-1.6},{"id":"B07","t":89,"v":-3.4},{"id":"B07","t":91,"v":-1.4},{"id":"B07","t":93,"v":-3.2},{"id":"B07","t":95,"v":-1.3},{"id":"B07","t":97,"v":-3.0},{"id":"B07","t":99,"v":-1.2},{"id":"B07","t":101,"v":-3.5},{"id":"B07","t":103,"v":-1.0},{"id":"B07","t":105,"v":-3.2},{"id":"B07","t":107,"v":-1.4},{"id":"B07","t":109,"v":-3.3},{"id":"B07","t":111,"v":-1.2},{"id":"B07","t":113,"v":-3.1},{"id":"B07","t":115,"v":-1.0},{"id":"B07","t":117,"v":-3.0},{"id":"B07","t":119,"v":-0.8},{"id":"B07","t":121,"v":-2.8},{"id":"B07","t":123,"v":-1.0},{"id":"B07","t":125,"v":-3.0},{"id":"B07","t":127,"v":-1.5},{"id":"B07","t":129,"v":-3.0},{"id":"B07","t":131,"v":-6.0},{"id":"B07","t":132,"v":-8.6},{"id":"B07","t":134,"v":-8.6},{"id":"B07","t":135,"v":-5.0},{"id":"B07","t":136,"v":-2.5},{"id":"B07","t":138,"v":-1.0},{"id":"B07","t":140,"v":-2.2},{"id":"B07","t":142,"v":-0.8},{"id":"B07","t":144,"v":-2.0},{"id":"B07","t":146,"v":-0.9},{"id":"B07","t":148,"v":-2.3},{"id":"B07","t":150,"v":-1.0},{"id":"B07","t":152,"v":-2.1},{"id":"B07","t":154,"v":-0.8},{"id":"B07","t":156,"v":-2.2},{"id":"B07","t":158,"v":-1.0},{"id":"B07","t":160,"v":-2.0},{"id":"B07","t":162,"v":-0.9},{"id":"B07","t":164,"v":-2.1},{"id":"B07","t":166,"v":-1.1},{"id":"B07","t":168,"v":-2.2},{"id":"B07","t":170,"v":-1.0},{"id":"B07","t":172,"v":-2.0},{"id":"B07","t":174,"v":-0.9},{"id":"B07","t":176,"v":-2.1},{"id":"B07","t":178,"v":-1.0},{"id":"B07","t":180,"v":-2.2},{"id":"B07","t":182,"v":-1.1},{"id":"B07","t":184,"v":-2.0},{"id":"B07","t":188,"v":-1.2},
{"id":"B08","t":-9,"v":1.0},{"id":"B08","t":-4,"v":1.8},{"id":"B08","t":-1,"v":0.8},{"id":"B08","t":2,"v":1.5},{"id":"B08","t":5,"v":0.7},{"id":"B08","t":8,"v":1.4},{"id":"B08","t":11,"v":0.6},{"id":"B08","t":14,"v":1.3},{"id":"B08","t":17,"v":0.8},{"id":"B08","t":20,"v":1.5},{"id":"B08","t":23,"v":0.9},{"id":"B08","t":26,"v":1.6},{"id":"B08","t":29,"v":1.0},{"id":"B08","t":32,"v":1.5},{"id":"B08","t":35,"v":0.8},{"id":"B08","t":38,"v":1.6},{"id":"B08","t":41,"v":1.0},{"id":"B08","t":44,"v":1.8},{"id":"B08","t":47,"v":1.2},{"id":"B08","t":50,"v":2.0},{"id":"B08","t":53,"v":1.4},{"id":"B08","t":56,"v":2.1},{"id":"B08","t":59,"v":1.5},{"id":"B08","t":62,"v":2.2},{"id":"B08","t":65,"v":1.8},{"id":"B08","t":68,"v":2.5},{"id":"B08","t":71,"v":1.9},{"id":"B08","t":74,"v":2.6},{"id":"B08","t":77,"v":2.0},{"id":"B08","t":80,"v":2.7},{"id":"B08","t":83,"v":2.4},{"id":"B08","t":86,"v":3.0},{"id":"B08","t":89,"v":2.5},{"id":"B08","t":92,"v":3.2},{"id":"B08","t":95,"v":2.6},{"id":"B08","t":98,"v":3.3},{"id":"B08","t":101,"v":2.8},{"id":"B08","t":103,"v":3.2},{"id":"B08","t":104,"v":4.5},{"id":"B08","t":106,"v":4.0},{"id":"B08","t":108,"v":4.6},{"id":"B08","t":110,"v":3.8},{"id":"B08","t":112,"v":4.3},{"id":"B08","t":114,"v":3.5},{"id":"B08","t":116,"v":3.9},{"id":"B08","t":118,"v":3.3},{"id":"B08","t":120,"v":3.6},{"id":"B08","t":122,"v":3.2},{"id":"B08","t":123,"v":4.5},{"id":"B08","t":124,"v":6.8},{"id":"B08","t":126,"v":7.5},{"id":"B08","t":128,"v":8.5},{"id":"B08","t":129,"v":8.0},{"id":"B08","t":130,"v":9.5},{"id":"B08","t":131,"v":14.5},{"id":"B08","t":132,"v":9.0},{"id":"B08","t":133,"v":-3.0},{"id":"B08","t":134,"v":-8.6},{"id":"B08","t":135,"v":-8.0},{"id":"B08","t":136,"v":-3.5},{"id":"B08","t":138,"v":-3.0},{"id":"B08","t":141,"v":-3.8},{"id":"B08","t":144,"v":-3.2},{"id":"B08","t":147,"v":-4.0},{"id":"B08","t":150,"v":-3.4},{"id":"B08","t":153,"v":-4.2},{"id":"B08","t":156,"v":-3.6},{"id":"B08","t":159,"v":-4.3},{"id":"B08","t":162,"v":-3.5},{"id":"B08","t":165,"v":-4.0},{"id":"B08","t":168,"v":-3.3},{"id":"B08","t":171,"v":-4.1},{"id":"B08","t":174,"v":-3.5},{"id":"B08","t":177,"v":-4.2},{"id":"B08","t":180,"v":-3.4},{"id":"B08","t":183,"v":-4.3},{"id":"B08","t":188,"v":-3.6},
{"id":"B09","t":134,"v":3.0},{"id":"B09","t":136,"v":2.4},{"id":"B09","t":139,"v":1.8},{"id":"B09","t":142,"v":2.6},{"id":"B09","t":145,"v":1.9},{"id":"B09","t":148,"v":2.5},{"id":"B09","t":151,"v":1.7},{"id":"B09","t":154,"v":2.4},{"id":"B09","t":157,"v":1.8},{"id":"B09","t":160,"v":2.6},{"id":"B09","t":163,"v":2.0},{"id":"B09","t":166,"v":2.7},{"id":"B09","t":169,"v":2.1},{"id":"B09","t":172,"v":2.8},{"id":"B09","t":175,"v":2.2},{"id":"B09","t":178,"v":2.6},{"id":"B09","t":181,"v":2.0},{"id":"B09","t":184,"v":2.7},{"id":"B09","t":188,"v":2.2},
{"id":"B10","t":-9,"v":3.5},{"id":"B10","t":-5,"v":2.8},{"id":"B10","t":-3,"v":3.6},{"id":"B10","t":-1,"v":2.9},{"id":"B10","t":1,"v":3.3},{"id":"B10","t":3,"v":2.4},{"id":"B10","t":5,"v":2.0},{"id":"B10","t":8,"v":2.6},{"id":"B10","t":11,"v":1.8},{"id":"B10","t":14,"v":2.8},{"id":"B10","t":17,"v":2.2},{"id":"B10","t":20,"v":2.9},{"id":"B10","t":23,"v":2.3},{"id":"B10","t":26,"v":2.8},{"id":"B10","t":29,"v":2.1},{"id":"B10","t":32,"v":2.7},{"id":"B10","t":35,"v":2.2},{"id":"B10","t":38,"v":2.8},{"id":"B10","t":41,"v":2.3},{"id":"B10","t":44,"v":2.9},{"id":"B10","t":47,"v":2.4},{"id":"B10","t":50,"v":2.8},{"id":"B10","t":53,"v":2.2},{"id":"B10","t":56,"v":2.9},{"id":"B10","t":59,"v":2.6},{"id":"B10","t":62,"v":3.2},{"id":"B10","t":65,"v":2.8},{"id":"B10","t":68,"v":3.4},{"id":"B10","t":71,"v":3.0},{"id":"B10","t":74,"v":3.6},{"id":"B10","t":77,"v":3.2},{"id":"B10","t":80,"v":3.8},{"id":"B10","t":82,"v":3.5},{"id":"B10","t":84,"v":4.8},{"id":"B10","t":86,"v":5.2},{"id":"B10","t":88,"v":4.6},{"id":"B10","t":90,"v":5.4},{"id":"B10","t":92,"v":4.8},{"id":"B10","t":94,"v":5.3},{"id":"B10","t":96,"v":4.9},{"id":"B10","t":98,"v":5.6},{"id":"B10","t":100,"v":5.0},{"id":"B10","t":102,"v":5.4},{"id":"B10","t":103,"v":4.6},{"id":"B10","t":104,"v":7.0},{"id":"B10","t":106,"v":7.6},{"id":"B10","t":108,"v":8.2},{"id":"B10","t":110,"v":7.7},{"id":"B10","t":112,"v":8.4},{"id":"B10","t":114,"v":7.9},{"id":"B10","t":116,"v":8.5},{"id":"B10","t":118,"v":8.0},{"id":"B10","t":120,"v":8.4},{"id":"B10","t":121,"v":6.0},{"id":"B10","t":122,"v":5.0},{"id":"B10","t":123,"v":6.5},{"id":"B10","t":124,"v":9.5},{"id":"B10","t":126,"v":10.2},{"id":"B10","t":128,"v":11.5},{"id":"B10","t":130,"v":13.0},{"id":"B10","t":132,"v":13.8},{"id":"B10","t":133,"v":12.0},{"id":"B10","t":134,"v":-8.6},{"id":"B10","t":135,"v":-8.6},{"id":"B10","t":136,"v":-3.0},{"id":"B10","t":138,"v":-3.8},{"id":"B10","t":140,"v":-3.0},{"id":"B10","t":142,"v":-4.0},{"id":"B10","t":144,"v":-3.2},{"id":"B10","t":146,"v":-3.9},{"id":"B10","t":148,"v":-3.1},{"id":"B10","t":150,"v":-3.8},{"id":"B10","t":152,"v":-3.3},{"id":"B10","t":154,"v":-4.2},{"id":"B10","t":156,"v":-3.5},{"id":"B10","t":158,"v":-4.0},{"id":"B10","t":160,"v":-3.2},{"id":"B10","t":162,"v":-3.8},{"id":"B10","t":164,"v":-3.0},{"id":"B10","t":166,"v":-3.9},{"id":"B10","t":168,"v":-3.2},{"id":"B10","t":170,"v":-4.0},{"id":"B10","t":172,"v":-3.4},{"id":"B10","t":174,"v":-3.9},{"id":"B10","t":176,"v":-3.1},{"id":"B10","t":178,"v":-3.6},{"id":"B10","t":180,"v":-2.9},{"id":"B10","t":182,"v":-3.5},{"id":"B10","t":184,"v":-2.8},{"id":"B10","t":188,"v":-3.3},
{"id":"B11","t":-9,"v":1.5},{"id":"B11","t":-5,"v":0.5},{"id":"B11","t":-3,"v":2.0},{"id":"B11","t":-1,"v":0.5},{"id":"B11","t":1,"v":-1.0},{"id":"B11","t":2,"v":1.5},{"id":"B11","t":4,"v":0.6},{"id":"B11","t":6,"v":2.0},{"id":"B11","t":8,"v":1.0},{"id":"B11","t":10,"v":2.2},{"id":"B11","t":12,"v":0.8},{"id":"B11","t":14,"v":1.8},{"id":"B11","t":16,"v":0.6},{"id":"B11","t":18,"v":1.9},{"id":"B11","t":20,"v":0.7},{"id":"B11","t":22,"v":2.0},{"id":"B11","t":24,"v":0.9},{"id":"B11","t":26,"v":1.8},{"id":"B11","t":28,"v":0.6},{"id":"B11","t":30,"v":1.9},{"id":"B11","t":32,"v":0.8},{"id":"B11","t":34,"v":2.0},{"id":"B11","t":36,"v":0.7},{"id":"B11","t":38,"v":1.8},{"id":"B11","t":40,"v":0.6},{"id":"B11","t":42,"v":1.9},{"id":"B11","t":44,"v":0.8},{"id":"B11","t":46,"v":2.0},{"id":"B11","t":48,"v":0.9},{"id":"B11","t":50,"v":2.1},{"id":"B11","t":52,"v":0.8},{"id":"B11","t":54,"v":1.9},{"id":"B11","t":56,"v":0.7},{"id":"B11","t":58,"v":2.0},{"id":"B11","t":60,"v":0.9},{"id":"B11","t":62,"v":2.2},{"id":"B11","t":64,"v":1.0},{"id":"B11","t":66,"v":2.3},{"id":"B11","t":68,"v":1.1},{"id":"B11","t":70,"v":2.4},{"id":"B11","t":72,"v":1.0},{"id":"B11","t":74,"v":2.2},{"id":"B11","t":76,"v":1.1},{"id":"B11","t":78,"v":2.5},{"id":"B11","t":80,"v":1.2},{"id":"B11","t":82,"v":2.6},{"id":"B11","t":84,"v":1.3},{"id":"B11","t":86,"v":2.7},{"id":"B11","t":88,"v":1.4},{"id":"B11","t":90,"v":2.8},{"id":"B11","t":92,"v":1.3},{"id":"B11","t":94,"v":2.9},{"id":"B11","t":96,"v":1.4},{"id":"B11","t":98,"v":2.8},{"id":"B11","t":100,"v":1.5},{"id":"B11","t":102,"v":3.0},{"id":"B11","t":104,"v":1.6},{"id":"B11","t":106,"v":3.2},{"id":"B11","t":108,"v":1.5},{"id":"B11","t":110,"v":3.4},{"id":"B11","t":112,"v":1.8},{"id":"B11","t":114,"v":3.3},{"id":"B11","t":116,"v":1.6},{"id":"B11","t":118,"v":3.5},{"id":"B11","t":120,"v":1.8},{"id":"B11","t":122,"v":3.2},{"id":"B11","t":124,"v":1.5},{"id":"B11","t":126,"v":3.0},{"id":"B11","t":128,"v":1.2},{"id":"B11","t":129.5,"v":-2.0},{"id":"B11","t":130.5,"v":-8.6},{"id":"B11","t":133,"v":-8.6},{"id":"B11","t":134,"v":-3.0},{"id":"B11","t":136,"v":-0.5},{"id":"B11","t":138,"v":0.5},{"id":"B11","t":140,"v":-0.6},{"id":"B11","t":142,"v":0.4},{"id":"B11","t":144,"v":-0.5},{"id":"B11","t":146,"v":0.5},{"id":"B11","t":148,"v":-0.6},{"id":"B11","t":150,"v":0.3},{"id":"B11","t":152,"v":-0.7},{"id":"B11","t":154,"v":0.2},{"id":"B11","t":156,"v":-0.8},{"id":"B11","t":158,"v":0.1},{"id":"B11","t":160,"v":-0.7},{"id":"B11","t":162,"v":0.2},{"id":"B11","t":164,"v":-0.8},{"id":"B11","t":166,"v":0.0},{"id":"B11","t":168,"v":-0.9},{"id":"B11","t":170,"v":0.1},{"id":"B11","t":172,"v":-0.8},{"id":"B11","t":174,"v":-0.1},{"id":"B11","t":176,"v":-1.0},{"id":"B11","t":178,"v":-0.2},{"id":"B11","t":180,"v":-0.9},{"id":"B11","t":182,"v":-0.3},{"id":"B11","t":184,"v":-1.1},{"id":"B11","t":188,"v":-0.4},
{"id":"B12","t":-9,"v":0.5},{"id":"B12","t":-5,"v":-0.5},{"id":"B12","t":-3,"v":1.5},{"id":"B12","t":-1,"v":-0.5},{"id":"B12","t":0,"v":-3.0},{"id":"B12","t":1,"v":-6.8},{"id":"B12","t":1.8,"v":-2.0},{"id":"B12","t":3,"v":0.5},{"id":"B12","t":6,"v":-0.5},{"id":"B12","t":9,"v":0.8},{"id":"B12","t":12,"v":-0.6},{"id":"B12","t":15,"v":0.6},{"id":"B12","t":18,"v":-0.7},{"id":"B12","t":21,"v":0.5},{"id":"B12","t":24,"v":-0.5},{"id":"B12","t":27,"v":0.7},{"id":"B12","t":30,"v":-0.6},{"id":"B12","t":33,"v":0.4},{"id":"B12","t":36,"v":-0.7},{"id":"B12","t":39,"v":0.5},{"id":"B12","t":42,"v":-0.4},{"id":"B12","t":43.5,"v":1.0},{"id":"B12","t":44,"v":3.8},{"id":"B12","t":44.8,"v":-0.5},{"id":"B12","t":47,"v":0.4},{"id":"B12","t":50,"v":-0.6},{"id":"B12","t":53,"v":0.5},{"id":"B12","t":56,"v":-0.5},{"id":"B12","t":59,"v":0.6},{"id":"B12","t":62,"v":-0.4},{"id":"B12","t":63.5,"v":1.0},{"id":"B12","t":64.3,"v":5.5},{"id":"B12","t":65,"v":0.0},{"id":"B12","t":67,"v":-0.6},{"id":"B12","t":70,"v":0.5},{"id":"B12","t":73,"v":-0.5},{"id":"B12","t":76,"v":0.6},{"id":"B12","t":79,"v":-0.5},{"id":"B12","t":82,"v":0.0},{"id":"B12","t":83,"v":2.0},{"id":"B12","t":84,"v":11.5},{"id":"B12","t":85,"v":5.0},{"id":"B12","t":86,"v":-1.0},{"id":"B12","t":88,"v":0.5},{"id":"B12","t":91,"v":-0.8},{"id":"B12","t":94,"v":0.4},{"id":"B12","t":97,"v":-0.6},{"id":"B12","t":100,"v":0.2},{"id":"B12","t":102,"v":3.0},{"id":"B12","t":103,"v":20.0},{"id":"B12","t":104,"v":15.0},{"id":"B12","t":104.8,"v":-1.0},{"id":"B12","t":106,"v":-3.5},{"id":"B12","t":108,"v":-1.5},{"id":"B12","t":111,"v":-3.0},{"id":"B12","t":114,"v":-1.2},{"id":"B12","t":117,"v":-2.8},{"id":"B12","t":120,"v":-1.0},{"id":"B12","t":122,"v":-2.0},{"id":"B12","t":123,"v":3.0},{"id":"B12","t":124,"v":25.0},{"id":"B12","t":125,"v":20.0},{"id":"B12","t":126,"v":6.0},{"id":"B12","t":127,"v":-2.0},{"id":"B12","t":129,"v":-4.0},{"id":"B12","t":130,"v":-1.0},{"id":"B12","t":132,"v":-3.0},{"id":"B12","t":134,"v":-6.0},{"id":"B12","t":135,"v":-8.6},{"id":"B12","t":136,"v":-8.6},{"id":"B12","t":137,"v":-4.0},{"id":"B12","t":138,"v":-1.0},{"id":"B12","t":141,"v":0.5},{"id":"B12","t":144,"v":-0.6},{"id":"B12","t":147,"v":0.4},{"id":"B12","t":150,"v":-0.5},{"id":"B12","t":153,"v":0.6},{"id":"B12","t":156,"v":-0.4},{"id":"B12","t":159,"v":0.5},{"id":"B12","t":162,"v":-0.5},{"id":"B12","t":165,"v":0.4},{"id":"B12","t":168,"v":-0.6},{"id":"B12","t":171,"v":0.3},{"id":"B12","t":174,"v":-0.7},{"id":"B12","t":177,"v":0.2},{"id":"B12","t":180,"v":-0.6},{"id":"B12","t":183,"v":0.1},{"id":"B12","t":188,"v":-0.5},
{"id":"B13","t":-9,"v":-0.5},{"id":"B13","t":-5,"v":0.8},{"id":"B13","t":-3,"v":-1.5},{"id":"B13","t":-1,"v":2.0},{"id":"B13","t":0,"v":-2.0},{"id":"B13","t":1,"v":0.5},{"id":"B13","t":2,"v":-1.5},{"id":"B13","t":3,"v":0.0},{"id":"B13","t":4,"v":1.0},{"id":"B13","t":5,"v":0.5},{"id":"B13","t":6,"v":1.8},{"id":"B13","t":7,"v":1.0},{"id":"B13","t":8,"v":2.8},{"id":"B13","t":9,"v":2.0},{"id":"B13","t":10,"v":3.5},{"id":"B13","t":11,"v":2.5},{"id":"B13","t":12,"v":4.2},{"id":"B13","t":13,"v":3.0},{"id":"B13","t":14,"v":4.8},{"id":"B13","t":15,"v":3.8},{"id":"B13","t":16,"v":5.5},{"id":"B13","t":17,"v":4.0},{"id":"B13","t":18,"v":5.2},{"id":"B13","t":19,"v":3.5},{"id":"B13","t":20,"v":4.8},{"id":"B13","t":21,"v":3.2},{"id":"B13","t":22,"v":5.5},{"id":"B13","t":23,"v":7.8},{"id":"B13","t":24,"v":8.8},{"id":"B13","t":25,"v":8.0},{"id":"B13","t":27,"v":9.2},{"id":"B13","t":29,"v":8.2},{"id":"B13","t":31,"v":9.0},{"id":"B13","t":33,"v":7.8},{"id":"B13","t":35,"v":8.8},{"id":"B13","t":37,"v":7.6},{"id":"B13","t":39,"v":8.5},{"id":"B13","t":41,"v":7.8},{"id":"B13","t":43,"v":8.0},{"id":"B13","t":44,"v":11.0},{"id":"B13","t":45,"v":12.8},{"id":"B13","t":47,"v":12.2},{"id":"B13","t":49,"v":13.0},{"id":"B13","t":51,"v":12.0},{"id":"B13","t":53,"v":12.8},{"id":"B13","t":55,"v":11.8},{"id":"B13","t":57,"v":12.5},{"id":"B13","t":59,"v":11.6},{"id":"B13","t":61,"v":12.2},{"id":"B13","t":62,"v":11.0},{"id":"B13","t":63,"v":9.8},{"id":"B13","t":64,"v":14.0},{"id":"B13","t":65,"v":17.0},{"id":"B13","t":67,"v":17.8},{"id":"B13","t":69,"v":18.5},{"id":"B13","t":71,"v":17.4},{"id":"B13","t":73,"v":18.2},{"id":"B13","t":75,"v":17.2},{"id":"B13","t":77,"v":18.4},{"id":"B13","t":79,"v":17.6},{"id":"B13","t":81,"v":17.0},{"id":"B13","t":82,"v":15.0},{"id":"B13","t":83,"v":13.8},{"id":"B13","t":84,"v":20.0},{"id":"B13","t":85,"v":22.8},{"id":"B13","t":87,"v":22.2},{"id":"B13","t":89,"v":23.0},{"id":"B13","t":91,"v":22.4},{"id":"B13","t":93,"v":23.2},{"id":"B13","t":95,"v":22.6},{"id":"B13","t":97,"v":22.9},{"id":"B13","t":99,"v":22.0},{"id":"B13","t":100,"v":21.2},{"id":"B13","t":101,"v":19.0},{"id":"B13","t":102,"v":17.5},{"id":"B13","t":103,"v":22.0},{"id":"B13","t":104,"v":26.0},{"id":"B13","t":105,"v":25.5},{"id":"B13","t":107,"v":26.2},{"id":"B13","t":109,"v":25.5},{"id":"B13","t":111,"v":26.5},{"id":"B13","t":113,"v":25.6},{"id":"B13","t":115,"v":26.0},{"id":"B13","t":117,"v":25.0},{"id":"B13","t":119,"v":25.3},{"id":"B13","t":120,"v":26.5},{"id":"B13","t":121,"v":27.5},{"id":"B13","t":122,"v":26.5},{"id":"B13","t":123,"v":29.0},{"id":"B13","t":124,"v":30.5},{"id":"B13","t":125,"v":32.0},{"id":"B13","t":126,"v":28.0},{"id":"B13","t":127,"v":26.0},{"id":"B13","t":128,"v":24.8},{"id":"B13","t":129,"v":24.0},{"id":"B13","t":130,"v":23.5},{"id":"B13","t":131,"v":23.2},{"id":"B13","t":131.8,"v":30.0},{"id":"B13","t":132.5,"v":28.0},{"id":"B13","t":133.2,"v":12.0},{"id":"B13","t":134,"v":2.0},{"id":"B13","t":134.5,"v":-2.0},
{"id":"B14","t":-9,"v":0.5},{"id":"B14","t":-6,"v":-0.8},{"id":"B14","t":-4,"v":1.2},{"id":"B14","t":-3,"v":-2.0},{"id":"B14","t":-2,"v":0.5},{"id":"B14","t":-1,"v":3.5},{"id":"B14","t":0,"v":-1.0},{"id":"B14","t":1,"v":1.5},{"id":"B14","t":2,"v":-1.0},{"id":"B14","t":3,"v":1.5},{"id":"B14","t":4,"v":0.5},{"id":"B14","t":5,"v":2.5},{"id":"B14","t":6,"v":1.5},{"id":"B14","t":7,"v":3.5},{"id":"B14","t":8,"v":3.0},{"id":"B14","t":9,"v":5.0},{"id":"B14","t":10,"v":4.2},{"id":"B14","t":11,"v":6.2},{"id":"B14","t":12,"v":5.0},{"id":"B14","t":13,"v":6.8},{"id":"B14","t":14,"v":5.5},{"id":"B14","t":15,"v":7.0},{"id":"B14","t":16,"v":5.6},{"id":"B14","t":17,"v":6.5},{"id":"B14","t":18,"v":5.2},{"id":"B14","t":19,"v":6.8},{"id":"B14","t":20,"v":4.5},{"id":"B14","t":21,"v":6.0},{"id":"B14","t":22,"v":7.5},{"id":"B14","t":23,"v":9.8},{"id":"B14","t":24,"v":10.2},{"id":"B14","t":26,"v":9.4},{"id":"B14","t":28,"v":10.4},{"id":"B14","t":30,"v":9.6},{"id":"B14","t":32,"v":10.0},{"id":"B14","t":34,"v":9.2},{"id":"B14","t":36,"v":10.1},{"id":"B14","t":38,"v":9.5},{"id":"B14","t":40,"v":10.3},{"id":"B14","t":42,"v":9.0},{"id":"B14","t":43,"v":11.0},{"id":"B14","t":44,"v":14.5},{"id":"B14","t":45,"v":16.5},{"id":"B14","t":47,"v":15.8},{"id":"B14","t":49,"v":17.2},{"id":"B14","t":51,"v":16.0},{"id":"B14","t":53,"v":16.8},{"id":"B14","t":55,"v":15.6},{"id":"B14","t":57,"v":17.0},{"id":"B14","t":59,"v":15.8},{"id":"B14","t":61,"v":16.4},{"id":"B14","t":62,"v":13.5},{"id":"B14","t":63,"v":10.3},{"id":"B14","t":64,"v":17.0},{"id":"B14","t":65,"v":21.0},{"id":"B14","t":67,"v":22.2},{"id":"B14","t":69,"v":21.5},{"id":"B14","t":71,"v":22.6},{"id":"B14","t":73,"v":21.8},{"id":"B14","t":75,"v":22.4},{"id":"B14","t":77,"v":21.6},{"id":"B14","t":79,"v":22.5},{"id":"B14","t":81,"v":21.0},{"id":"B14","t":82,"v":17.0},{"id":"B14","t":83,"v":14.2},{"id":"B14","t":84,"v":24.0},{"id":"B14","t":85,"v":30.5},{"id":"B14","t":87,"v":28.2},{"id":"B14","t":89,"v":28.8},{"id":"B14","t":91,"v":27.8},{"id":"B14","t":93,"v":28.6},{"id":"B14","t":95,"v":28.0},{"id":"B14","t":97,"v":28.7},{"id":"B14","t":99,"v":27.5},{"id":"B14","t":100,"v":25.5},{"id":"B14","t":101,"v":22.0},{"id":"B14","t":102,"v":27.0},{"id":"B14","t":103,"v":31.0},{"id":"B14","t":104,"v":36.2},{"id":"B14","t":105,"v":33.0},{"id":"B14","t":107,"v":32.8},{"id":"B14","t":109,"v":32.2},{"id":"B14","t":111,"v":32.9},{"id":"B14","t":113,"v":32.3},{"id":"B14","t":115,"v":32.6},{"id":"B14","t":117,"v":31.5},{"id":"B14","t":118,"v":29.2},{"id":"B14","t":119,"v":30.0},{"id":"B14","t":120,"v":33.0},{"id":"B14","t":121,"v":35.0},{"id":"B14","t":122,"v":34.0},{"id":"B14","t":123,"v":36.5},{"id":"B14","t":124,"v":38.0},{"id":"B14","t":125,"v":41.0},{"id":"B14","t":126,"v":33.0},{"id":"B14","t":127,"v":31.5},{"id":"B14","t":128,"v":30.5},{"id":"B14","t":129,"v":27.0},{"id":"B14","t":130,"v":24.5},{"id":"B14","t":131,"v":23.5},{"id":"B14","t":131.8,"v":36.5},{"id":"B14","t":132.5,"v":34.0},{"id":"B14","t":133.2,"v":20.0},{"id":"B14","t":134,"v":4.0},{"id":"B14","t":134.5,"v":-1.0},{"id":"B14","t":135,"v":1.0},{"id":"B14","t":136,"v":0.5},{"id":"B14","t":137,"v":1.8},{"id":"B14","t":138,"v":0.6},{"id":"B14","t":139,"v":1.5},{"id":"B14","t":140,"v":0.3},{"id":"B14","t":142,"v":1.2},{"id":"B14","t":144,"v":0.4},{"id":"B14","t":146,"v":1.6},{"id":"B14","t":148,"v":0.5},{"id":"B14","t":150,"v":1.3},{"id":"B14","t":152,"v":0.2},{"id":"B14","t":154,"v":1.0},{"id":"B14","t":156,"v":0.0},{"id":"B14","t":158,"v":0.9},{"id":"B14","t":160,"v":-0.2},{"id":"B14","t":162,"v":0.8},{"id":"B14","t":164,"v":-0.4},{"id":"B14","t":166,"v":0.5},{"id":"B14","t":168,"v":-0.6},{"id":"B14","t":170,"v":0.3},{"id":"B14","t":172,"v":-0.7},{"id":"B14","t":174,"v":0.0},{"id":"B14","t":176,"v":-0.9},{"id":"B14","t":178,"v":-0.2},{"id":"B14","t":180,"v":-1.0},{"id":"B14","t":182,"v":-0.4},{"id":"B14","t":184,"v":-0.9},{"id":"B14","t":188,"v":-0.5},
{"id":"B15","t":2.5,"v":0.0},{"id":"B15","t":158,"v":0.0}
]
},
"hconcat": [
{
 "width": 390, "height": 380,
 "title": {"text": "A", "anchor": "start", "frame": "group", "dx": -95, "fontSize": 42, "fontWeight": "normal", "font": "Liberation Sans", "baseline": "alphabetic", "offset": -36, "color": "black"},
 "data": {"name": "A"},
 "encoding": {
  "x": {"field": "t", "type": "quantitative", "scale": {"domain": [-8.15, 186.85], "nice": false, "zero": false},
        "axis": {"title": "Time (s)", "values": [0,20,40,60,80,100,120,140,160,180], "labelExpr": "datum.value == 100 || datum.value == 140 || datum.value == 180 ? '' : datum.label", "labelPadding": 5, "titlePadding": 20}},
  "y": {"field": "v", "type": "quantitative", "scale": {"domain": [-8.2, 66], "nice": false, "zero": false},
        "axis": {"title": "Response (RU)", "values": [0,10,20,30,40,50,60], "labelPadding": 6, "titlePadding": 25}}
 },
 "layer": [
  {"transform": [{"filter": "datum.id < 'A13'"}],
   "mark": {"type": "line", "strokeWidth": 3, "clip": true, "strokeJoin": "round"},
   "encoding": {"color": {"field": "id", "type": "nominal", "legend": null,
      "scale": {"domain": ["A01","A02","A03","A04","A05","A06","A07","A08","A09","A10","A11","A12","A13","A14","A15","A16","A17","A18","A19"],
                "range": ["#22ee22","#888888","#ffffff","#ff0000","#ff00ff","#c060f8","#8b0000","#000080","#20c4f4","#0a5f5f","#ff8000","#ff8000","#0000ff","#000000","#000000","#000000","#0b6262","#0b6b0b","#990000"]}}}},
  {"transform": [{"filter": "datum.id == 'A13'"}],
   "mark": {"type": "line", "strokeWidth": 3.5, "clip": true, "color": "#0000ff"}},
  {"transform": [{"filter": "datum.id > 'A13'"}],
   "mark": {"type": "line", "strokeWidth": 3, "clip": true, "strokeJoin": "round"},
   "encoding": {"color": {"field": "id", "type": "nominal", "legend": null,
      "scale": {"domain": ["A01","A02","A03","A04","A05","A06","A07","A08","A09","A10","A11","A12","A13","A14","A15","A16","A17","A18","A19"],
                "range": ["#22ee22","#888888","#ffffff","#ff0000","#ff00ff","#c060f8","#8b0000","#000080","#20c4f4","#0a5f5f","#ff8000","#ff8000","#0000ff","#000000","#000000","#000000","#0b6262","#0b6b0b","#990000"]}}}},
  {"data": {"values": [{"t": 1, "v": 61, "label": "1 - CAII surface"}]},
   "mark": {"type": "text", "align": "left", "baseline": "alphabetic", "fontSize": 25, "font": "Liberation Sans", "color": "#0000ff"},
   "encoding": {"text": {"field": "label"}}}
 ]
},
{
 "width": 390, "height": 380,
 "title": {"text": "B", "anchor": "start", "frame": "group", "dx": -92, "fontSize": 42, "fontWeight": "normal", "font": "Liberation Sans", "baseline": "alphabetic", "offset": -46, "color": "black"},
 "data": {"name": "B"},
 "encoding": {
  "x": {"field": "t", "type": "quantitative", "scale": {"domain": [-7.46, 186.5], "nice": false, "zero": false},
        "axis": {"title": "Time (s)", "values": [0,20,40,60,80,100,120,140,160,180], "labelExpr": "datum.value == 100 || datum.value == 140 || datum.value == 180 ? '' : datum.label", "labelPadding": 5, "titlePadding": 20}},
  "y": {"field": "v", "type": "quantitative", "scale": {"domain": [-8, 40], "nice": false, "zero": false},
        "axis": {"title": "Response (RU)", "values": [-5,0,5,10,15,20,25,30,35,40], "labelPadding": 6, "titlePadding": 25}}
 },
 "layer": [
  {"transform": [{"filter": "datum.id != 'B15'"}],
   "mark": {"type": "line", "strokeWidth": 3, "clip": true, "strokeJoin": "round"},
   "encoding": {"color": {"field": "id", "type": "nominal", "legend": null,
      "scale": {"domain": ["B01","B02","B03","B04","B05","B06","B07","B08","B09","B10","B11","B12","B13","B14","B15"],
                "range": ["#22ee22","#888888","#ff0000","#ff00ff","#c060f8","#8b0000","#0a5f5f","#000080","#20c4f4","#20c4f4","#0a5f5f","#0b6b0b","#000000","#000000","#0000ff"]}}}},
  {"transform": [{"filter": "datum.id == 'B15'"}],
   "mark": {"type": "line", "strokeWidth": 3.5, "clip": true, "color": "#0000ff"}},
  {"data": {"values": [{"t": 1, "v": 36.7, "label": "2 - Kinase surface"}]},
   "mark": {"type": "text", "align": "left", "baseline": "alphabetic", "fontSize": 25, "font": "Liberation Sans", "color": "#0000ff"},
   "encoding": {"text": {"field": "label"}}}
 ]
}
]
}
